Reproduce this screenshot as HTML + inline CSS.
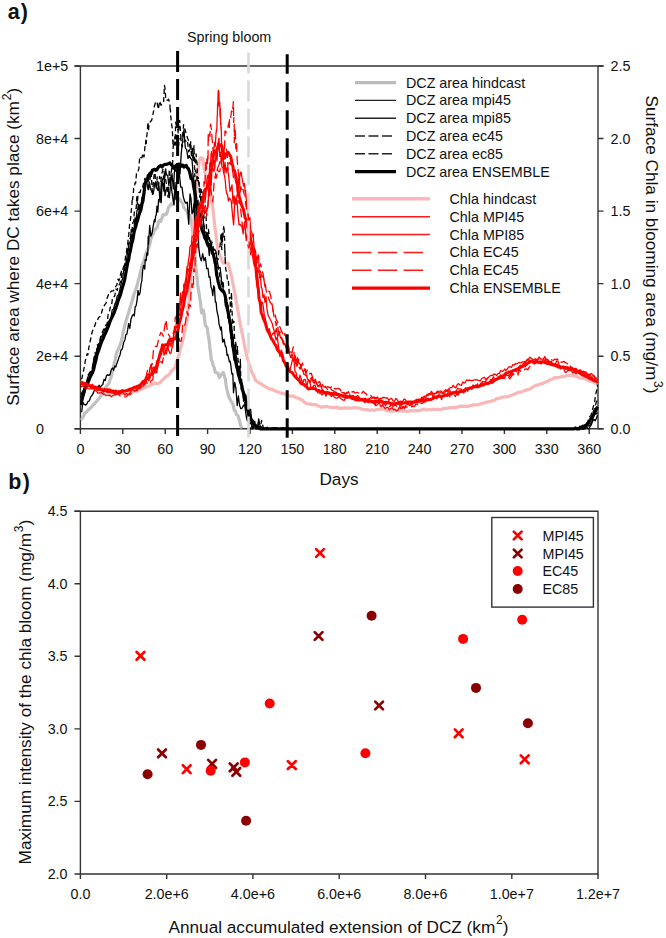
<!DOCTYPE html>
<html><head><meta charset="utf-8"><title>Figure</title>
<style>html,body{margin:0;padding:0;background:#fff;width:666px;height:938px;overflow:hidden}svg{display:block}text{font-family:"Liberation Sans", sans-serif;fill:#111}</style>
</head><body>
<svg width="666" height="938" viewBox="0 0 666 938">
<defs><clipPath id="clipa"><rect x="80.4" y="60" width="520" height="372"/></clipPath></defs>
<text x="7.8" y="18.7" font-size="21.5" font-weight="bold">a<tspan dx="1.1">)</tspan></text>
<text x="187" y="41.9" font-size="14.3">Spring bloom</text>
<path d="M74.5,66H603.5 M80.4,66V428.7 M598,66V428.7 M74.5,428.7H603.5" stroke="#333" stroke-width="1.4" fill="none"/>
<path d="M74.5,428.7H80.4 M598,428.7H603.5 M74.5,356.2H80.4 M598,356.2H603.5 M74.5,283.6H80.4 M598,283.6H603.5 M74.5,211.1H80.4 M598,211.1H603.5 M74.5,138.5H80.4 M598,138.5H603.5 M74.5,66.0H80.4 M598,66.0H603.5 M80.4,428.7V434 M122.8,428.7V434 M165.2,428.7V434 M207.6,428.7V434 M250.0,428.7V434 M292.4,428.7V434 M334.8,428.7V434 M377.2,428.7V434 M419.6,428.7V434 M462.0,428.7V434 M504.4,428.7V434 M546.8,428.7V434 M589.2,428.7V434" stroke="#333" stroke-width="1.4" fill="none"/>
<g clip-path="url(#clipa)"><polyline points="80.4,420.2 81.8,418.5 83.2,416.6 84.6,413.7 86.0,412.3 87.2,411.2 88.4,409.6 89.6,408.7 90.8,407.6 92.0,406.4 93.2,405.1 94.4,404.1 95.6,402.4 96.8,401.1 98.0,399.7 99.2,398.3 100.4,396.5 101.6,394.5 102.8,392.3 104.0,390.5 105.3,388.3 106.7,386.0 108.0,384.4 109.1,382.9 110.1,379.4 111.2,376.8 112.0,373.4 112.8,369.8 113.6,366.4 114.4,362.7 115.2,359.9 116.0,355.0 117.3,351.1 118.7,348.4 120.1,344.7 121.4,341.1 122.3,336.8 123.2,331.9 124.1,328.4 125.0,324.8 126.2,320.2 127.4,316.2 128.6,312.7 129.8,308.5 130.9,305.0 131.9,301.7 132.9,298.2 134.0,294.1 135.1,291.2 136.2,288.4 137.3,284.8 138.4,279.8 139.3,277.3 140.2,273.1 141.0,270.9 141.9,265.7 142.8,263.8 144.1,260.3 145.4,255.0 146.7,251.6 148.0,248.9 149.3,246.2 150.6,240.9 151.8,235.9 153.1,233.9 154.5,230.6 155.8,228.8 157.2,227.6 158.6,221.3 159.7,220.6 160.8,221.3 161.9,218.4 163.0,214.7 164.1,215.2 165.2,214.2 166.3,214.3 167.5,211.4 168.7,206.9 169.8,205.8 171.0,204.0 172.1,204.6 173.2,203.5 174.2,197.7 175.3,194.3 176.5,198.3 177.8,200.5 179.0,198.7 180.2,199.8 181.4,201.8 182.6,203.6 183.8,207.3 185.0,209.0 186.2,210.4 187.3,211.6 188.7,218.2 190.0,215.4 190.6,219.4 191.2,223.6 191.8,223.7 192.4,229.4 192.8,232.1 193.2,238.9 193.7,242.3 194.1,247.8 194.5,254.1 194.8,257.4 195.1,257.6 195.4,257.1 195.8,266.3 196.1,269.0 196.4,270.4 196.7,274.7 197.2,278.3 197.7,284.7 198.2,288.0 198.7,291.7 199.2,294.1 199.8,299.0 200.3,300.8 200.9,306.3 201.5,312.8 202.4,311.7 203.3,310.1 204.3,316.4 205.3,325.3 206.3,326.5 207.3,328.1 207.9,333.4 208.4,335.9 208.9,339.4 209.5,343.1 209.9,348.3 210.4,351.6 210.9,356.0 211.3,359.6 212.3,362.0 213.3,365.5 214.3,368.1 215.3,372.4 216.6,372.7 218.0,373.3 219.3,377.6 220.6,375.7 222.0,373.7 223.3,372.5 224.4,375.8 225.4,379.5 226.0,384.2 226.7,388.6 227.3,390.8 228.5,396.0 229.8,398.7 231.0,401.1 232.1,402.7 233.2,405.2 234.2,410.4 235.3,410.8 236.7,414.9 238.0,415.6 239.3,420.1 240.7,425.6 242.0,428.3" fill="none" stroke="#c0c0c0" stroke-width="3.2" stroke-linejoin="round" stroke-linecap="butt" />
<polyline points="80.4,383.1 81.8,383.2 83.2,383.5 84.6,383.2 86.0,384.2 87.4,385.0 88.8,385.2 90.2,385.8 91.6,386.2 93.0,386.3 94.4,386.9 95.8,387.1 97.2,387.3 98.6,387.4 100.0,388.0 101.4,388.3 102.8,388.9 104.2,389.0 105.7,389.5 107.1,389.6 108.5,390.3 109.9,390.7 111.3,391.2 112.7,391.6 114.1,391.6 115.5,392.3 116.9,393.2 118.4,393.0 119.8,392.8 121.2,392.8 122.6,393.6 123.9,393.4 125.3,393.5 126.6,393.4 128.0,393.1 129.3,392.8 130.6,392.4 132.0,392.3 133.3,391.5 134.6,391.1 136.0,390.9 137.3,391.1 138.7,390.5 140.0,389.8 141.3,389.1 142.7,388.8 144.0,388.1 145.3,387.8 146.6,386.6 148.0,386.3 149.3,386.0 150.6,384.8 151.9,384.2 153.3,384.0 154.6,383.3 155.9,383.3 157.3,383.6 158.7,383.2 160.0,382.7 161.3,381.1 162.7,380.0 164.0,378.6 165.3,377.2 166.5,376.4 167.7,375.8 168.8,374.7 170.0,373.5 171.2,371.3 172.4,370.3 173.7,368.8 174.9,367.8 176.1,363.9 177.3,359.7 178.5,356.0 179.5,352.6 180.4,348.8 181.4,345.2 182.4,342.5 183.1,339.1 183.9,335.7 184.6,332.1 185.3,328.4 186.1,325.2 186.8,321.6 187.2,317.7 187.6,314.0 187.9,310.0 188.3,306.5 188.7,303.2 189.1,299.2 189.4,296.0 189.8,292.1 190.0,288.4 190.2,284.4 190.5,280.7 190.7,277.0 190.9,273.2 191.1,269.4 191.3,265.6 191.6,261.7 191.8,257.7 192.0,254.1 192.2,250.4 192.4,246.8 192.6,243.0 192.8,239.8 193.1,235.7 193.3,231.4 193.5,227.9 193.7,223.4 193.9,219.6 194.1,215.2 194.4,211.7 194.6,207.5 194.9,204.3 195.2,200.6 195.5,196.8 195.7,193.8 196.0,190.4 196.4,186.6 196.8,182.6 197.1,178.8 197.5,175.0 197.9,171.7 198.3,168.4 198.8,164.6 199.2,160.9 200.5,157.8 201.6,157.9 202.6,158.4 203.2,162.2 203.9,166.3 204.5,170.5 205.2,173.9 206.1,177.5 206.9,180.8 207.8,184.8 208.6,188.1 209.5,191.5 210.2,194.5 210.9,197.7 211.5,201.1 212.2,204.4 212.9,208.0 213.2,210.9 213.6,214.6 213.9,217.8 214.3,221.8 214.6,225.1 215.1,229.1 215.6,232.3 216.1,236.2 216.5,239.6 217.0,243.2 217.5,247.0 218.0,250.7 219.3,253.8 220.6,257.1 221.8,260.3 223.1,263.2 224.4,263.0 225.6,263.1 226.9,263.3 228.2,263.0 229.0,266.7 229.9,270.0 230.8,273.3 231.6,276.9 232.3,280.5 233.0,284.0 233.6,287.0 234.3,290.6 235.0,294.1 235.7,297.6 236.3,301.9 237.0,305.8 237.6,309.1 238.3,313.0 238.9,316.6 239.6,320.9 240.4,325.1 241.2,328.8 242.0,332.6 242.8,336.7 243.6,340.7 244.4,345.0 245.2,349.0 246.1,352.6 246.9,356.5 247.7,359.7 249.0,363.8 250.4,368.1 251.7,372.0 253.1,374.5 254.4,377.4 255.8,380.6 257.1,381.5 258.5,382.1 259.9,383.5 261.2,383.8 262.5,385.0 263.9,385.8 265.2,386.8 266.6,387.2 267.9,388.3 269.3,389.0 270.6,389.1 272.0,389.2 273.2,389.7 274.4,390.6 275.6,391.1 276.8,391.5 278.0,391.9 279.4,392.5 280.7,392.9 282.1,393.3 283.5,393.4 284.8,394.1 286.2,394.8 287.5,394.7 288.9,395.7 290.3,396.1 291.6,396.2 293.0,395.9 294.3,396.7 295.7,397.5 297.0,397.9 298.4,398.0 299.7,399.1 301.1,399.6 302.4,400.1 303.8,401.7 305.1,402.8 306.5,403.5 307.8,403.8 309.2,404.3 310.5,403.9 311.9,404.4 313.2,404.6 314.6,404.7 315.9,404.7 317.3,405.5 318.6,406.1 320.0,406.7 321.4,407.1 322.8,406.9 324.2,406.7 325.6,406.3 327.0,406.5 328.4,407.0 329.8,407.2 331.2,407.5 332.6,407.3 334.0,407.3 335.4,407.3 336.8,407.1 338.1,407.9 339.5,408.3 340.9,408.1 342.3,408.0 343.7,408.1 345.1,407.8 346.5,408.2 347.9,408.0 349.3,408.1 350.7,408.0 352.1,408.1 353.5,407.9 354.9,407.7 356.3,407.8 357.7,407.9 359.1,408.1 360.5,408.5 361.9,409.2 363.3,409.5 364.7,409.5 366.1,409.8 367.5,409.6 368.9,410.1 370.3,410.3 371.7,409.8 373.1,410.1 374.5,410.4 376.0,409.6 377.4,409.5 378.8,409.5 380.2,409.1 381.6,409.1 383.0,409.1 384.4,409.6 385.8,409.9 387.2,410.9 388.6,410.8 390.0,411.1 391.4,411.1 392.8,411.2 394.2,410.8 395.6,410.3 397.0,410.3 398.4,410.6 399.8,411.1 401.2,411.2 402.6,411.2 404.0,410.8 405.4,411.2 406.8,411.5 408.3,411.1 409.7,411.0 411.1,410.5 412.5,410.9 413.9,410.9 415.3,410.7 416.7,410.7 418.1,410.7 419.5,410.5 420.9,410.0 422.3,409.6 423.7,409.1 425.1,409.4 426.5,410.2 427.9,409.6 429.3,409.6 430.8,409.8 432.2,409.4 433.6,409.5 435.0,409.2 436.4,409.6 437.8,409.4 439.2,409.4 440.6,409.6 442.0,409.2 443.4,408.5 444.7,408.3 446.1,408.4 447.5,408.2 448.9,408.1 450.2,407.6 451.6,407.6 453.0,407.6 454.4,407.4 455.7,407.8 457.1,407.4 458.5,406.8 459.9,406.1 461.2,406.4 462.6,406.2 464.0,406.3 465.4,406.1 466.8,406.3 468.2,406.3 469.6,405.7 471.1,405.5 472.5,405.4 473.9,404.6 475.3,404.8 476.7,404.8 478.1,404.7 479.5,404.2 480.9,403.9 482.4,403.2 483.8,402.9 485.2,402.4 486.6,402.2 488.0,401.9 489.4,401.6 490.8,401.5 492.2,400.7 493.6,400.6 495.1,399.6 496.5,398.6 497.9,398.4 499.3,398.2 500.7,398.0 502.1,397.2 503.5,397.0 504.9,396.8 506.4,396.9 507.8,396.4 509.2,396.2 510.6,395.5 512.0,395.1 513.4,394.4 514.8,394.1 516.2,393.3 517.6,392.5 519.1,392.2 520.5,392.2 521.9,391.7 523.3,391.1 524.7,390.4 526.1,390.1 527.5,389.6 528.9,389.4 530.4,388.8 531.8,387.7 533.2,386.9 534.6,386.0 536.0,385.1 537.4,385.1 538.8,384.8 540.1,383.9 541.5,383.9 542.9,383.4 544.3,382.5 545.6,382.1 547.0,381.6 548.4,380.8 549.8,379.7 551.2,379.4 552.5,379.1 553.9,377.9 555.3,377.7 556.6,377.8 557.9,377.5 559.2,377.3 560.5,377.0 561.8,376.6 563.2,376.4 564.5,376.6 565.8,375.9 567.1,375.8 568.4,375.7 569.7,375.2 571.0,375.4 572.3,375.4 573.6,375.5 574.9,375.9 576.2,376.4 577.5,376.5 578.8,377.8 580.1,377.8 581.4,378.1 582.7,378.2 584.0,378.3 585.4,379.2 586.8,379.5 588.2,380.3 589.6,381.1 591.0,381.1 592.4,381.8 593.8,382.0 595.2,383.2 596.6,383.4 598.0,383.5" fill="none" stroke="#f9b8b8" stroke-width="3.2" stroke-linejoin="round" stroke-linecap="butt" />
<polyline points="80.4,387.2 81.2,379.0 82.0,378.2 82.8,373.6 83.7,369.8 84.5,366.2 85.3,360.5 86.2,358.4 87.0,354.0 87.9,354.8 88.7,348.3 89.6,343.7 90.5,340.0 91.3,335.9 92.2,331.8 93.5,328.8 94.7,326.1 96.0,321.8 97.1,321.3 98.2,318.4 99.2,316.8 100.3,316.7 101.5,313.0 102.6,309.0 103.8,306.5 104.9,304.6 106.1,303.1 107.2,297.9 108.4,294.7 109.6,294.8 110.8,291.6 112.1,290.8 113.3,290.9 114.5,289.4 115.6,286.7 116.8,285.1 117.9,279.2 119.0,280.8 120.4,275.0 121.8,269.9 123.2,268.1 124.6,265.0 125.2,259.5 125.8,254.3 126.4,251.9 127.0,247.9 127.4,246.4 127.9,241.9 128.3,237.1 128.8,234.7 129.2,228.8 129.7,223.5 130.1,222.3 130.6,218.8 131.0,213.5 131.5,208.5 131.9,206.5 132.2,197.7 132.6,199.6 133.0,196.1 133.7,188.4 134.3,188.1 135.0,182.9 135.7,183.1 136.5,173.2 137.3,171.0 138.1,171.0 138.9,168.6 139.7,156.5 140.8,157.6 141.9,157.9 143.0,153.3 144.0,157.0 145.0,146.3 145.4,146.9 145.9,139.1 146.3,143.4 146.8,135.9 147.4,130.8 147.9,122.2 148.5,130.7 149.0,125.0 150.3,121.8 151.7,120.2 153.0,114.2 154.3,106.6 155.6,102.2 156.9,101.5 158.3,109.3 159.7,101.1 161.0,105.4 161.9,104.0 162.7,103.5 163.6,102.3 164.1,91.6 164.5,85.4 165.0,88.3 165.7,97.7 166.3,100.5 167.6,100.2 168.6,99.2 169.6,102.6 169.9,104.2 170.2,111.7 170.4,109.2 170.7,115.8 171.0,118.6 171.7,125.1 172.3,128.5 173.0,144.9 174.0,143.1 175.0,145.3 175.7,122.2 176.3,125.5 177.3,126.1 178.3,133.5 179.7,120.3 181.0,138.7 182.3,138.5 183.6,124.6 184.9,129.1 186.3,134.1 187.6,138.3 189.0,141.5 190.3,148.9 190.7,141.7 191.2,149.7 191.6,150.8 192.9,160.5 194.3,157.2 195.6,162.8 196.1,154.0 196.6,161.5 197.0,162.5 197.5,178.6 198.0,178.3 198.4,177.7 198.9,180.2 199.3,187.5 199.7,186.7 200.1,188.9 200.6,197.9 201.0,209.7 201.4,203.6 201.9,205.0 202.3,206.1 202.7,208.8 203.1,219.3 203.6,224.7 204.0,225.4 205.0,230.0 206.0,233.0 207.0,236.8 208.0,234.9 209.3,242.0 210.7,248.2 212.0,249.6 213.3,253.7 214.7,256.1 216.0,260.8 217.0,267.6 218.0,267.6 219.0,271.2 220.0,277.3 221.0,280.8 222.0,287.6 223.0,280.8 224.0,291.9 224.6,292.4 225.1,297.4 225.7,303.1 226.3,307.6 226.9,311.2 227.4,312.2 228.0,319.7 228.6,318.2 229.1,321.7 229.7,328.0 230.3,327.9 230.9,338.9 231.4,340.0 232.0,346.6 232.8,344.6 233.6,347.0 234.4,352.4 235.2,358.1 236.0,358.5 236.8,364.9 237.6,368.0 238.4,376.6 239.2,374.6 240.0,382.9 240.8,382.0 241.6,384.3 242.4,388.5 243.2,390.8 244.0,398.1 245.0,404.5 246.0,405.8 247.0,410.4 248.0,416.9 249.3,416.6 250.7,419.2 252.0,421.5 253.3,420.5 254.7,427.3 256.0,424.4 257.3,428.9 258.7,428.7 260.0,428.9 261.4,428.9 262.8,427.1 264.2,428.9 265.6,428.6 267.1,428.8 268.5,428.9 269.9,428.8 271.3,428.8 272.7,428.4 274.1,428.8 275.5,427.7 276.9,428.7 278.4,428.2 279.8,428.9 281.2,428.9 282.6,427.9 284.0,428.9 285.4,428.9 286.8,428.9 288.2,428.9 289.7,428.9 291.1,428.9 292.5,428.9 293.9,428.9 295.3,428.9 296.7,428.9 298.1,428.9 299.5,428.9 301.0,428.9 302.4,428.9 303.8,428.9 305.2,428.9 306.6,428.9 308.0,428.9 309.4,428.9 310.8,428.9 312.3,428.9 313.7,428.9 315.1,428.9 316.5,428.9 317.9,428.9 319.3,428.9 320.7,428.9 322.1,428.9 323.6,428.9 325.0,428.9 326.4,428.9 327.8,428.9 329.2,428.9 330.6,428.9 332.0,428.9 333.4,428.9 334.9,428.9 336.3,428.9 337.7,428.9 339.1,428.9 340.5,428.9 341.9,428.9 343.3,428.9 344.7,428.9 346.1,428.9 347.6,428.9 349.0,428.9 350.4,428.9 351.8,428.9 353.2,428.9 354.6,428.9 356.0,428.9 357.4,428.9 358.9,428.9 360.3,428.9 361.7,428.9 363.1,428.9 364.5,428.9 365.9,428.9 367.3,428.9 368.7,428.9 370.2,428.9 371.6,428.9 373.0,428.9 374.4,428.9 375.8,428.9 377.2,428.9 378.6,428.9 380.0,428.9 381.5,428.9 382.9,428.9 384.3,428.9 385.7,428.9 387.1,428.9 388.5,428.9 389.9,428.9 391.3,428.9 392.8,428.9 394.2,428.9 395.6,428.9 397.0,428.9 398.4,428.9 399.8,428.9 401.2,428.9 402.6,428.9 404.1,428.9 405.5,428.9 406.9,428.9 408.3,428.9 409.7,428.9 411.1,428.9 412.5,428.9 413.9,428.9 415.4,428.9 416.8,428.9 418.2,428.9 419.6,428.9 421.0,428.9 422.4,428.9 423.8,428.9 425.2,428.9 426.6,428.9 428.1,428.9 429.5,428.9 430.9,428.9 432.3,428.9 433.7,428.9 435.1,428.9 436.5,428.9 437.9,428.9 439.4,428.9 440.8,428.9 442.2,428.9 443.6,428.9 445.0,428.9 446.4,428.9 447.8,428.9 449.2,428.9 450.7,428.9 452.1,428.9 453.5,428.9 454.9,428.9 456.3,428.9 457.7,428.9 459.1,428.9 460.5,428.9 462.0,428.9 463.4,428.9 464.8,428.9 466.2,428.9 467.6,428.9 469.0,428.9 470.4,428.9 471.8,428.9 473.3,428.9 474.7,428.9 476.1,428.9 477.5,428.9 478.9,428.9 480.3,428.9 481.7,428.9 483.1,428.9 484.6,428.9 486.0,428.9 487.4,428.9 488.8,428.9 490.2,428.9 491.6,428.9 493.0,428.9 494.4,428.9 495.9,428.9 497.3,428.9 498.7,428.9 500.1,428.9 501.5,428.9 502.9,428.9 504.3,428.9 505.7,428.9 507.1,428.9 508.6,428.9 510.0,428.9 511.4,428.9 512.8,428.9 514.2,428.9 515.6,428.9 517.0,428.9 518.4,428.9 519.9,428.9 521.3,428.9 522.7,428.9 524.1,428.9 525.5,428.9 526.9,428.9 528.3,428.9 529.7,428.9 531.2,428.9 532.6,428.9 534.0,428.9 535.4,428.9 536.8,428.9 538.2,428.9 539.6,428.9 541.0,428.9 542.5,428.9 543.9,428.9 545.3,428.9 546.7,428.9 548.1,428.9 549.5,428.9 550.9,428.9 552.3,428.9 553.8,428.9 555.2,428.9 556.6,428.9 558.0,428.9 559.4,428.9 560.8,428.9 562.2,428.9 563.6,428.9 565.1,428.9 566.5,428.9 567.9,428.9 569.3,428.9 570.7,428.9 572.1,428.9 573.5,428.9 574.9,428.9 576.4,428.9 577.8,427.9 579.2,428.3 580.6,428.9 582.0,428.9 583.2,426.8 584.5,427.1 585.8,423.7 587.0,424.3 588.3,419.6 589.7,416.7 591.0,415.4 592.0,411.3 593.0,407.6 594.0,404.5 594.7,401.4 595.3,397.0 596.0,393.0 596.8,389.9 597.5,384.5" fill="none" stroke="#000" stroke-width="1.3" stroke-linejoin="round" stroke-linecap="butt" stroke-dasharray="5,3" />
<polyline points="80.4,403.6 81.3,401.2 82.2,401.9 83.1,397.0 84.0,388.7 85.0,388.2 86.0,383.7 87.0,381.7 88.0,374.7 89.3,374.2 90.7,370.5 92.0,369.3 93.0,363.5 94.0,360.2 95.0,352.5 96.0,356.4 97.2,344.7 98.5,346.4 99.8,340.3 101.0,335.1 102.2,332.4 103.5,329.4 104.8,328.6 106.0,324.8 107.1,324.1 108.2,313.5 109.2,312.6 110.3,307.1 111.4,306.4 112.6,297.5 113.7,297.4 114.8,295.6 116.0,288.9 117.2,290.4 118.4,285.7 119.6,284.0 120.8,280.7 122.0,272.9 123.0,268.8 124.0,266.2 125.0,265.0 126.0,261.7 127.0,253.1 127.8,248.9 128.6,244.2 129.4,240.7 130.2,237.9 131.0,234.4 131.7,238.8 132.3,226.2 133.0,222.3 133.7,221.4 134.3,212.1 135.0,210.1 135.6,208.5 136.2,208.6 136.8,196.3 137.4,204.0 138.0,194.0 139.0,192.4 140.0,192.5 141.0,188.8 142.3,188.9 143.7,182.0 145.0,178.1 146.2,181.6 147.5,174.3 148.8,190.7 150.0,178.9 151.2,172.2 152.4,195.5 153.6,179.6 154.8,168.6 156.0,189.3 157.2,176.8 158.4,188.0 159.6,176.4 160.8,181.5 162.0,172.8 163.2,168.5 164.4,173.7 165.6,179.7 166.8,185.6 168.0,197.2 169.3,169.3 170.7,179.8 172.0,164.7 172.6,163.9 173.2,146.3 173.8,141.0 174.4,144.2 175.0,136.6 176.0,144.6 177.0,134.5 178.0,150.3 179.3,139.8 180.7,138.0 182.0,147.1 183.3,144.0 184.7,139.9 186.0,141.1 187.3,140.0 188.7,151.8 190.0,149.3 190.8,148.8 191.6,156.8 192.4,147.2 193.2,160.9 194.0,145.7 194.8,176.6 195.6,170.2 196.4,174.1 197.2,182.5 198.0,180.4 198.8,182.1 199.6,197.0 200.4,193.8 201.2,189.3 202.0,202.6 203.0,191.7 204.0,218.1 205.0,211.1 206.0,215.3 206.8,234.2 207.6,238.7 208.4,229.3 209.2,235.2 210.0,242.2 211.0,249.3 212.0,241.8 213.0,245.6 214.0,255.1 215.3,252.9 216.7,257.8 218.0,259.8 219.0,248.1 220.0,246.6 221.0,234.7 221.4,243.3 221.8,249.7 222.1,233.3 222.5,241.3 222.9,238.4 223.3,229.7 223.7,226.6 223.9,230.4 224.1,228.5 224.4,234.6 224.6,239.5 224.7,247.4 224.8,252.7 224.9,248.3 225.1,260.2 225.2,256.1 225.3,262.7 225.8,269.6 226.4,271.5 226.9,274.4 227.4,280.3 227.9,279.6 228.5,282.4 229.0,288.5 229.5,299.0 230.0,297.5 230.5,311.9 231.0,307.3 231.5,292.4 232.0,308.4 232.5,325.1 233.0,320.9 233.5,321.2 234.0,321.9 234.5,337.4 235.0,340.3 235.5,341.9 236.0,343.8 236.5,353.2 237.0,354.2 237.5,346.3 238.0,360.2 238.5,361.7 239.0,363.8 239.5,372.3 240.0,372.6 240.4,359.5 240.9,386.5 241.3,389.7 241.8,387.0 242.2,388.7 242.7,395.6 243.2,391.2 243.6,403.0 244.7,404.8 245.8,407.9 246.9,408.6 248.0,413.7 249.3,426.4 250.7,428.9 252.0,428.7 253.3,427.0 254.7,424.3 256.0,428.9 257.4,428.9 258.8,422.9 260.2,428.9 261.6,420.3 263.0,426.6 264.5,428.9 265.9,427.5 267.3,427.2 268.7,428.9 270.1,428.9 271.5,428.5 272.9,428.9 274.3,428.2 275.7,428.9 277.1,428.9 278.6,428.9 280.0,428.9 281.4,428.9 282.8,428.9 284.2,428.9 285.6,428.9 287.0,428.9 288.4,428.9 289.8,428.9 291.2,428.9 292.6,428.9 294.1,428.9 295.5,428.9 296.9,428.9 298.3,428.9 299.7,428.9 301.1,428.9 302.5,428.9 303.9,428.9 305.3,428.9 306.7,428.9 308.2,428.9 309.6,428.9 311.0,428.9 312.4,428.9 313.8,428.9 315.2,428.9 316.6,428.9 318.0,428.9 319.4,428.9 320.8,428.9 322.2,428.9 323.7,428.9 325.1,428.9 326.5,428.9 327.9,428.9 329.3,428.9 330.7,428.9 332.1,428.9 333.5,428.9 334.9,428.9 336.3,428.9 337.8,428.9 339.2,428.9 340.6,428.9 342.0,428.9 343.4,428.9 344.8,428.9 346.2,428.9 347.6,428.9 349.0,428.9 350.4,428.9 351.8,428.9 353.3,428.9 354.7,428.9 356.1,428.9 357.5,428.9 358.9,428.9 360.3,428.9 361.7,428.9 363.1,428.9 364.5,428.9 365.9,428.9 367.3,428.9 368.8,428.9 370.2,428.9 371.6,428.9 373.0,428.9 374.4,428.9 375.8,428.9 377.2,428.9 378.6,428.9 380.0,428.9 381.4,428.9 382.9,428.9 384.3,428.9 385.7,428.9 387.1,428.9 388.5,428.9 389.9,428.9 391.3,428.9 392.7,428.9 394.1,428.9 395.5,428.9 396.9,428.9 398.4,428.9 399.8,428.9 401.2,428.9 402.6,428.9 404.0,428.9 405.4,428.9 406.8,428.9 408.2,428.9 409.6,428.9 411.0,428.9 412.5,428.9 413.9,428.9 415.3,428.9 416.7,428.9 418.1,428.9 419.5,428.9 420.9,428.9 422.3,428.9 423.7,428.9 425.1,428.9 426.5,428.9 428.0,428.9 429.4,428.9 430.8,428.9 432.2,428.9 433.6,428.9 435.0,428.9 436.4,428.9 437.8,428.9 439.2,428.9 440.6,428.9 442.1,428.9 443.5,428.9 444.9,428.9 446.3,428.9 447.7,428.9 449.1,428.9 450.5,428.9 451.9,428.9 453.3,428.9 454.7,428.9 456.1,428.9 457.6,428.9 459.0,428.9 460.4,428.9 461.8,428.9 463.2,428.9 464.6,428.9 466.0,428.9 467.4,428.9 468.8,428.9 470.2,428.9 471.7,428.9 473.1,428.9 474.5,428.9 475.9,428.9 477.3,428.9 478.7,428.9 480.1,428.9 481.5,428.9 482.9,428.9 484.3,428.9 485.7,428.9 487.2,428.9 488.6,428.9 490.0,428.9 491.4,428.9 492.8,428.9 494.2,428.9 495.6,428.9 497.0,428.9 498.4,428.9 499.8,428.9 501.2,428.9 502.7,428.9 504.1,428.9 505.5,428.9 506.9,428.9 508.3,428.9 509.7,428.9 511.1,428.9 512.5,428.9 513.9,428.9 515.3,428.9 516.8,428.9 518.2,428.9 519.6,428.9 521.0,428.9 522.4,428.9 523.8,428.9 525.2,428.9 526.6,428.9 528.0,428.9 529.4,428.9 530.8,428.9 532.3,428.9 533.7,428.9 535.1,428.9 536.5,428.9 537.9,428.9 539.3,428.9 540.7,428.9 542.1,428.9 543.5,428.9 544.9,428.9 546.4,428.9 547.8,428.9 549.2,428.9 550.6,428.9 552.0,428.9 553.4,428.9 554.8,428.9 556.2,428.9 557.6,428.9 559.0,428.9 560.4,428.9 561.9,428.9 563.3,428.9 564.7,428.9 566.1,428.9 567.5,428.9 568.9,428.9 570.3,428.9 571.7,428.9 573.1,428.9 574.5,428.9 576.0,427.5 577.4,428.9 578.8,428.9 580.2,426.4 581.6,428.9 583.0,428.9 584.2,426.8 585.5,427.2 586.8,422.7 588.0,424.1 589.3,420.9 590.7,419.6 592.0,415.2 593.0,412.2 594.0,409.8 595.0,406.4 596.2,402.5 597.5,399.3" fill="none" stroke="#000" stroke-width="1.3" stroke-linejoin="round" stroke-linecap="butt" stroke-dasharray="5,3" />
<polyline points="80.4,398.3 81.6,393.1 82.8,391.2 84.0,388.8 85.3,387.1 86.7,381.8 88.0,376.9 89.3,372.9 90.7,372.7 92.0,371.6 92.9,365.7 93.8,359.0 94.6,356.0 95.5,358.1 96.9,352.0 98.2,344.0 99.6,343.2 101.0,337.5 102.3,335.1 103.7,332.2 105.0,328.4 106.1,328.5 107.2,325.0 108.4,321.3 109.5,320.7 110.8,318.5 112.2,310.1 113.5,309.1 114.8,304.1 116.0,301.9 117.2,296.0 118.5,294.8 119.5,291.1 120.5,286.8 121.6,281.3 122.6,278.8 123.2,273.8 123.9,269.5 124.5,270.2 125.2,263.1 126.0,265.6 126.8,261.2 127.5,249.0 128.2,251.5 129.0,243.8 129.8,243.5 130.5,240.1 131.3,229.4 132.2,231.7 133.0,228.8 134.0,230.0 135.0,218.0 136.0,221.5 137.0,210.4 137.7,209.6 138.4,204.1 139.1,211.3 139.8,204.8 140.5,210.5 141.7,198.8 142.8,195.3 144.0,191.6 145.3,180.7 146.7,181.2 148.0,189.5 149.3,182.0 150.7,189.2 152.0,192.0 153.3,193.7 154.7,183.7 156.0,181.6 157.0,188.0 158.0,190.5 159.0,186.2 160.0,202.2 161.3,183.3 162.7,179.2 164.0,175.2 165.0,195.6 166.0,190.4 167.0,188.1 168.0,189.5 169.3,197.6 170.7,183.8 172.0,173.6 173.3,189.0 174.7,168.0 176.0,171.4 177.0,171.5 178.0,163.3 179.0,163.0 180.0,173.9 181.3,152.7 182.7,139.8 184.0,129.5 185.3,147.8 186.7,149.9 188.0,158.4 189.3,155.4 190.7,158.5 192.0,159.9 192.5,165.8 193.0,177.1 193.5,176.1 194.0,184.7 194.5,207.9 195.0,199.0 195.5,180.2 196.0,216.5 197.0,209.0 198.0,200.4 199.0,217.6 200.0,215.8 201.0,213.7 202.0,216.4 203.0,217.1 204.0,227.6 205.3,239.4 206.7,234.5 208.0,242.6 209.3,255.5 210.7,240.3 212.0,250.9 213.3,251.0 214.7,249.2 216.0,251.7 217.3,261.3 218.7,268.3 220.0,267.3 220.8,273.6 221.6,281.2 222.4,282.9 223.2,289.4 224.0,291.1 224.7,294.7 225.3,305.8 226.0,303.5 226.7,303.8 227.3,310.4 228.0,305.3 228.6,311.2 229.1,321.3 229.7,324.6 230.3,333.3 230.9,328.8 231.4,323.4 232.0,345.0 232.7,345.9 233.3,337.5 234.0,353.6 234.7,351.2 235.3,344.1 236.0,354.7 236.8,358.8 237.6,374.5 238.4,366.4 239.2,372.2 240.0,376.3 240.8,379.1 241.6,379.5 242.4,388.9 243.2,397.7 244.0,399.1 245.0,394.0 246.0,395.6 247.0,406.2 248.0,406.1 249.3,409.4 250.7,409.4 252.0,427.4 253.3,426.9 254.7,421.1 256.0,428.9 257.3,428.9 258.7,418.9 260.0,425.7 261.4,427.0 262.8,428.9 264.2,428.6 265.6,428.7 267.0,428.8 268.5,428.9 269.9,428.9 271.3,428.6 272.7,427.9 274.1,428.9 275.5,428.1 276.9,428.2 278.3,428.9 279.7,428.9 281.1,428.9 282.5,428.9 283.9,428.0 285.4,428.9 286.8,428.9 288.2,428.9 289.6,428.9 291.0,428.9 292.4,428.9 293.8,428.9 295.2,428.9 296.6,428.9 298.0,428.9 299.4,428.9 300.9,428.9 302.3,428.9 303.7,428.9 305.1,428.9 306.5,428.9 307.9,428.9 309.3,428.9 310.7,428.9 312.1,428.9 313.5,428.9 314.9,428.9 316.3,428.9 317.8,428.9 319.2,428.9 320.6,428.9 322.0,428.9 323.4,428.9 324.8,428.9 326.2,428.9 327.6,428.9 329.0,428.9 330.4,428.9 331.8,428.9 333.3,428.9 334.7,428.9 336.1,428.9 337.5,428.9 338.9,428.9 340.3,428.9 341.7,428.9 343.1,428.9 344.5,428.9 345.9,428.9 347.3,428.9 348.7,428.9 350.2,428.9 351.6,428.9 353.0,428.9 354.4,428.9 355.8,428.9 357.2,428.9 358.6,428.9 360.0,428.9 361.4,428.9 362.8,428.9 364.2,428.9 365.7,428.9 367.1,428.9 368.5,428.9 369.9,428.9 371.3,428.9 372.7,428.9 374.1,428.9 375.5,428.9 376.9,428.9 378.3,428.9 379.7,428.9 381.1,428.9 382.6,428.9 384.0,428.9 385.4,428.9 386.8,428.9 388.2,428.9 389.6,428.9 391.0,428.9 392.4,428.9 393.8,428.9 395.2,428.9 396.6,428.9 398.1,428.9 399.5,428.9 400.9,428.9 402.3,428.9 403.7,428.9 405.1,428.9 406.5,428.9 407.9,428.9 409.3,428.9 410.7,428.9 412.1,428.9 413.5,428.9 415.0,428.9 416.4,428.9 417.8,428.9 419.2,428.9 420.6,428.9 422.0,428.9 423.4,428.9 424.8,428.9 426.2,428.9 427.6,428.9 429.0,428.9 430.5,428.9 431.9,428.9 433.3,428.9 434.7,428.9 436.1,428.9 437.5,428.9 438.9,428.9 440.3,428.9 441.7,428.9 443.1,428.9 444.5,428.9 445.9,428.9 447.4,428.9 448.8,428.9 450.2,428.9 451.6,428.9 453.0,428.9 454.4,428.9 455.8,428.9 457.2,428.9 458.6,428.9 460.0,428.9 461.4,428.9 462.9,428.9 464.3,428.9 465.7,428.9 467.1,428.9 468.5,428.9 469.9,428.9 471.3,428.9 472.7,428.9 474.1,428.9 475.5,428.9 476.9,428.9 478.3,428.9 479.8,428.9 481.2,428.9 482.6,428.9 484.0,428.9 485.4,428.9 486.8,428.9 488.2,428.9 489.6,428.9 491.0,428.9 492.4,428.9 493.8,428.9 495.3,428.9 496.7,428.9 498.1,428.9 499.5,428.9 500.9,428.9 502.3,428.9 503.7,428.9 505.1,428.9 506.5,428.9 507.9,428.9 509.3,428.9 510.7,428.9 512.2,428.9 513.6,428.9 515.0,428.9 516.4,428.9 517.8,428.9 519.2,428.9 520.6,428.9 522.0,428.9 523.4,428.9 524.8,428.9 526.2,428.9 527.7,428.9 529.1,428.9 530.5,428.9 531.9,428.9 533.3,428.9 534.7,428.9 536.1,428.9 537.5,428.9 538.9,428.9 540.3,428.9 541.7,428.9 543.1,428.9 544.6,428.9 546.0,428.9 547.4,428.9 548.8,428.9 550.2,428.9 551.6,428.9 553.0,428.9 554.4,428.9 555.8,428.9 557.2,428.9 558.6,428.9 560.1,428.9 561.5,428.9 562.9,428.9 564.3,428.9 565.7,428.9 567.1,428.9 568.5,428.9 569.9,428.9 571.3,428.9 572.7,428.9 574.1,428.9 575.5,427.1 577.0,428.9 578.4,428.5 579.8,426.2 581.2,428.9 582.6,428.9 584.0,428.9 585.2,428.9 586.5,426.4 587.8,425.5 589.0,426.2 590.3,424.4 591.7,422.1 593.0,418.5 594.1,415.2 595.2,413.6 596.4,413.9 597.5,412.7" fill="none" stroke="#000" stroke-width="1.3" stroke-linejoin="round" stroke-linecap="butt" />
<polyline points="80.4,411.9 81.7,411.7 82.9,402.4 84.2,404.3 85.5,405.1 86.7,404.3 88.0,401.4 89.4,400.8 90.8,396.8 92.2,395.1 93.6,392.4 95.0,388.1 96.3,387.0 97.7,388.0 99.1,385.3 100.4,387.2 101.6,385.5 102.8,384.5 104.0,379.3 105.2,380.6 106.4,375.8 107.6,374.7 108.8,375.4 110.0,374.6 111.2,369.9 112.4,368.0 113.6,370.3 114.7,366.0 115.8,367.0 116.9,363.4 118.0,360.6 119.0,357.1 120.0,355.0 121.0,349.9 122.3,348.9 123.7,342.4 125.0,339.4 125.9,334.7 126.8,334.4 127.7,329.7 128.6,323.6 129.8,328.4 131.0,319.0 132.2,315.8 133.4,314.3 134.3,316.0 135.2,306.6 136.1,305.9 137.0,300.6 138.0,290.5 139.0,295.1 140.0,293.3 141.0,284.4 141.8,281.1 142.7,270.2 143.6,265.3 144.4,267.1 144.8,269.0 145.2,259.8 145.6,259.4 146.2,260.6 146.8,253.1 147.4,252.5 147.8,255.1 148.2,236.3 148.6,244.0 149.7,225.5 150.9,236.3 152.0,233.5 153.2,226.1 154.4,219.6 155.0,221.9 155.6,216.2 156.2,215.4 157.0,206.1 157.8,212.0 158.6,199.5 159.5,199.6 160.4,195.6 161.2,202.6 162.1,181.8 163.0,183.4 163.9,191.2 164.8,176.9 165.6,168.8 166.5,175.0 167.7,175.2 168.8,185.3 170.0,177.5 171.3,187.7 172.7,197.1 174.0,204.9 175.0,182.3 176.0,199.4 177.0,176.9 178.0,165.8 179.3,173.4 180.7,187.1 182.0,187.2 183.3,197.0 184.7,201.5 186.0,203.3 187.3,202.1 188.7,224.1 190.0,193.8 191.0,198.6 192.0,213.7 193.0,212.1 194.0,203.9 195.0,222.5 196.2,228.3 197.5,217.3 198.8,248.1 200.0,256.9 201.3,260.8 202.7,253.7 204.0,260.7 205.3,257.4 206.7,268.6 208.0,268.3 209.0,277.1 210.0,276.8 211.0,287.0 212.0,289.8 212.8,295.7 213.7,285.7 214.5,287.5 215.3,302.0 216.1,302.1 216.8,310.1 217.6,313.8 218.3,317.0 219.1,324.2 219.8,326.6 220.6,329.8 221.3,327.0 222.7,342.2 224.0,339.1 225.4,346.4 226.2,347.1 227.0,355.3 227.8,354.4 228.6,358.2 229.4,361.8 230.1,361.2 230.8,364.9 231.4,370.5 232.1,374.3 232.8,373.7 233.5,392.8 234.7,382.4 235.9,388.2 237.2,405.5 238.4,396.0 239.6,405.5 240.9,408.8 242.3,408.0 243.6,405.1 244.9,406.3 246.2,416.0 247.4,421.1 248.7,411.5 250.0,423.8 251.2,422.6 252.4,428.9 253.6,427.9 254.8,425.1 256.0,427.1 257.4,428.9 258.8,428.9 260.2,428.9 261.6,428.9 263.1,428.9 264.5,428.9 265.9,428.9 267.3,428.9 268.7,428.9 270.1,428.9 271.5,428.3 272.9,428.9 274.4,428.9 275.8,428.9 277.2,428.9 278.6,428.9 280.0,428.9 281.4,428.9 282.8,428.1 284.2,428.9 285.7,428.9 287.1,428.9 288.5,428.9 289.9,428.9 291.3,428.9 292.7,428.9 294.1,428.9 295.5,428.9 296.9,428.9 298.4,428.9 299.8,428.9 301.2,428.9 302.6,428.9 304.0,428.9 305.4,428.9 306.8,428.9 308.2,428.9 309.7,428.9 311.1,428.9 312.5,428.9 313.9,428.9 315.3,428.9 316.7,428.9 318.1,428.9 319.5,428.9 321.0,428.9 322.4,428.9 323.8,428.9 325.2,428.9 326.6,428.9 328.0,428.9 329.4,428.9 330.8,428.9 332.2,428.9 333.7,428.9 335.1,428.9 336.5,428.9 337.9,428.9 339.3,428.9 340.7,428.9 342.1,428.9 343.5,428.9 345.0,428.9 346.4,428.9 347.8,428.9 349.2,428.9 350.6,428.9 352.0,428.9 353.4,428.9 354.8,428.9 356.3,428.9 357.7,428.9 359.1,428.9 360.5,428.9 361.9,428.9 363.3,428.9 364.7,428.9 366.1,428.9 367.5,428.9 369.0,428.9 370.4,428.9 371.8,428.9 373.2,428.9 374.6,428.9 376.0,428.9 377.4,428.9 378.8,428.9 380.3,428.9 381.7,428.9 383.1,428.9 384.5,428.9 385.9,428.9 387.3,428.9 388.7,428.9 390.1,428.9 391.6,428.9 393.0,428.9 394.4,428.9 395.8,428.9 397.2,428.9 398.6,428.9 400.0,428.9 401.4,428.9 402.8,428.9 404.3,428.9 405.7,428.9 407.1,428.9 408.5,428.9 409.9,428.9 411.3,428.9 412.7,428.9 414.1,428.9 415.6,428.9 417.0,428.9 418.4,428.9 419.8,428.9 421.2,428.9 422.6,428.9 424.0,428.9 425.4,428.9 426.9,428.9 428.3,428.9 429.7,428.9 431.1,428.9 432.5,428.9 433.9,428.9 435.3,428.9 436.7,428.9 438.2,428.9 439.6,428.9 441.0,428.9 442.4,428.9 443.8,428.9 445.2,428.9 446.6,428.9 448.0,428.9 449.4,428.9 450.9,428.9 452.3,428.9 453.7,428.9 455.1,428.9 456.5,428.9 457.9,428.9 459.3,428.9 460.7,428.9 462.2,428.9 463.6,428.9 465.0,428.9 466.4,428.9 467.8,428.9 469.2,428.9 470.6,428.9 472.0,428.9 473.5,428.9 474.9,428.9 476.3,428.9 477.7,428.9 479.1,428.9 480.5,428.9 481.9,428.9 483.3,428.9 484.7,428.9 486.2,428.9 487.6,428.9 489.0,428.9 490.4,428.9 491.8,428.9 493.2,428.9 494.6,428.9 496.0,428.9 497.5,428.9 498.9,428.9 500.3,428.9 501.7,428.9 503.1,428.9 504.5,428.9 505.9,428.9 507.3,428.9 508.8,428.9 510.2,428.9 511.6,428.9 513.0,428.9 514.4,428.9 515.8,428.9 517.2,428.9 518.6,428.9 520.0,428.9 521.5,428.9 522.9,428.9 524.3,428.9 525.7,428.9 527.1,428.9 528.5,428.9 529.9,428.9 531.3,428.9 532.8,428.9 534.2,428.9 535.6,428.9 537.0,428.9 538.4,428.9 539.8,428.9 541.2,428.9 542.6,428.9 544.1,428.9 545.5,428.9 546.9,428.9 548.3,428.9 549.7,428.9 551.1,428.9 552.5,428.9 553.9,428.9 555.3,428.9 556.8,428.9 558.2,428.9 559.6,428.9 561.0,428.9 562.4,428.9 563.8,428.9 565.2,428.9 566.6,428.9 568.1,428.9 569.5,428.9 570.9,428.9 572.3,428.9 573.7,428.9 575.1,428.3 576.5,427.5 577.9,427.6 579.4,428.9 580.8,428.5 582.2,428.6 583.6,428.9 585.0,428.0 586.2,425.3 587.5,428.2 588.8,428.9 590.0,426.7 591.3,424.9 592.7,420.9 594.0,419.5 595.2,420.8 596.3,418.5 597.5,415.2" fill="none" stroke="#000" stroke-width="1.3" stroke-linejoin="round" stroke-linecap="butt" />
<polyline points="80.4,405.0 81.2,402.6 82.0,400.0 82.9,396.2 83.9,392.8 84.8,389.2 86.2,386.2 87.6,383.7 89.0,380.0 90.1,377.2 91.2,375.1 92.4,372.7 93.5,370.2 94.4,365.9 95.3,362.3 96.2,359.0 97.1,354.5 98.3,351.5 99.5,347.8 100.6,344.6 101.8,341.3 103.0,338.9 104.3,335.4 105.7,332.7 107.0,329.7 108.4,326.4 109.8,322.0 111.2,318.9 112.6,316.0 114.0,313.0 115.4,309.1 116.7,305.5 117.9,301.6 119.2,297.8 120.4,294.9 121.5,290.8 122.5,287.2 123.5,284.1 124.6,279.8 125.2,276.5 125.8,273.3 126.4,270.0 127.2,265.4 127.9,262.0 128.7,259.5 129.4,254.2 130.2,251.5 130.9,247.7 131.7,243.4 132.4,241.5 133.1,238.3 133.9,233.2 134.6,230.0 135.7,226.8 136.7,222.7 137.8,219.6 138.8,215.4 139.9,212.3 140.9,209.8 141.9,204.4 143.0,200.7 143.5,196.4 144.0,193.2 144.5,188.3 145.0,184.8 145.5,181.8 146.7,180.9 147.8,179.7 149.0,174.8 150.1,173.2 151.2,173.6 152.4,170.2 153.5,169.7 154.6,169.3 155.8,170.3 156.9,169.8 158.0,167.7 159.3,166.4 160.7,165.5 162.1,166.9 163.4,165.1 164.8,164.3 166.1,164.5 167.5,164.0 168.8,163.5 169.9,163.0 171.1,164.6 172.2,165.3 173.3,168.1 174.7,167.3 176.0,165.4 177.1,165.7 178.2,164.5 179.4,165.5 180.5,164.6 181.6,166.1 182.8,165.1 183.9,167.0 185.0,166.0 186.2,165.5 187.4,167.9 188.6,169.0 189.8,172.7 191.1,178.6 192.3,179.1 192.9,181.3 193.4,184.8 194.0,188.5 194.8,192.1 195.5,195.8 196.0,199.8 196.5,203.1 197.0,204.4 197.7,207.8 198.5,211.4 199.2,213.5 199.8,217.7 200.4,220.1 201.0,225.1 201.6,228.5 202.8,231.9 203.9,234.5 204.9,238.2 206.0,239.5 207.0,242.9 208.1,245.8 209.2,244.9 210.2,248.7 211.3,248.1 212.4,252.9 213.4,254.8 214.5,259.1 215.0,262.6 215.6,264.0 216.1,269.7 216.6,274.7 217.2,276.9 217.7,279.2 218.2,281.9 218.8,283.8 219.9,288.0 220.9,289.4 222.0,290.9 223.0,291.4 224.1,292.5 225.1,295.5 226.2,302.1 226.9,305.5 227.7,310.5 228.4,313.7 228.9,315.8 229.4,318.8 230.0,321.6 230.5,325.3 230.9,328.7 231.4,332.2 231.8,334.4 232.2,337.9 232.6,344.5 233.1,347.0 233.5,349.4 234.2,354.0 234.8,359.5 235.5,360.5 236.2,364.1 236.8,367.2 237.5,369.0 238.5,374.6 239.6,378.4 240.6,382.3 241.6,384.9 242.6,389.9 243.6,393.3 244.6,397.4 245.6,400.2 246.6,402.9 247.6,409.1 248.7,411.9 249.7,416.0 251.0,419.0 252.4,421.6 253.7,424.3 255.1,426.0 256.4,426.5 257.8,427.2 259.2,427.8 260.6,428.9 262.0,428.9 263.4,428.9 264.8,428.9 266.2,428.6 267.6,428.9 269.1,428.9 270.5,428.9 271.9,428.9 273.3,428.9 274.7,428.9 276.1,428.9 277.5,428.9 278.9,428.9 280.3,428.9 281.8,428.9 283.2,428.9 284.6,428.9 286.0,428.9 287.4,428.9 288.8,428.9 290.2,428.9 291.6,428.9 293.0,428.9 294.4,428.9 295.9,428.9 297.3,428.9 298.7,428.9 300.1,428.9 301.5,428.9 302.9,428.9 304.3,428.9 305.7,428.9 307.1,428.9 308.6,428.9 310.0,428.9 311.4,428.9 312.8,428.9 314.2,428.9 315.6,428.9 317.0,428.9 318.4,428.9 319.8,428.9 321.2,428.9 322.7,428.9 324.1,428.9 325.5,428.9 326.9,428.9 328.3,428.9 329.7,428.9 331.1,428.9 332.5,428.9 333.9,428.9 335.4,428.9 336.8,428.9 338.2,428.9 339.6,428.9 341.0,428.9 342.4,428.9 343.8,428.9 345.2,428.9 346.6,428.9 348.1,428.9 349.5,428.9 350.9,428.9 352.3,428.9 353.7,428.9 355.1,428.9 356.5,428.9 357.9,428.9 359.3,428.9 360.8,428.9 362.2,428.9 363.6,428.9 365.0,428.9 366.4,428.9 367.8,428.9 369.2,428.9 370.6,428.9 372.0,428.9 373.4,428.9 374.9,428.9 376.3,428.9 377.7,428.9 379.1,428.9 380.5,428.9 381.9,428.9 383.3,428.9 384.7,428.9 386.1,428.9 387.6,428.9 389.0,428.9 390.4,428.9 391.8,428.9 393.2,428.9 394.6,428.9 396.0,428.9 397.4,428.9 398.8,428.9 400.2,428.9 401.7,428.9 403.1,428.9 404.5,428.9 405.9,428.9 407.3,428.9 408.7,428.9 410.1,428.9 411.5,428.9 412.9,428.9 414.4,428.9 415.8,428.9 417.2,428.9 418.6,428.9 420.0,428.9 421.4,428.9 422.8,428.9 424.2,428.9 425.6,428.9 427.1,428.9 428.5,428.9 429.9,428.9 431.3,428.9 432.7,428.9 434.1,428.9 435.5,428.9 436.9,428.9 438.3,428.9 439.8,428.9 441.2,428.9 442.6,428.9 444.0,428.9 445.4,428.9 446.8,428.9 448.2,428.9 449.6,428.9 451.0,428.9 452.4,428.9 453.9,428.9 455.3,428.9 456.7,428.9 458.1,428.9 459.5,428.9 460.9,428.9 462.3,428.9 463.7,428.9 465.1,428.9 466.6,428.9 468.0,428.9 469.4,428.9 470.8,428.9 472.2,428.9 473.6,428.9 475.0,428.9 476.4,428.9 477.8,428.9 479.2,428.9 480.7,428.9 482.1,428.9 483.5,428.9 484.9,428.9 486.3,428.9 487.7,428.9 489.1,428.9 490.5,428.9 491.9,428.9 493.4,428.9 494.8,428.9 496.2,428.9 497.6,428.9 499.0,428.9 500.4,428.9 501.8,428.9 503.2,428.9 504.6,428.9 506.1,428.9 507.5,428.9 508.9,428.9 510.3,428.9 511.7,428.9 513.1,428.9 514.5,428.9 515.9,428.9 517.3,428.9 518.8,428.9 520.2,428.9 521.6,428.9 523.0,428.9 524.4,428.9 525.8,428.9 527.2,428.9 528.6,428.9 530.0,428.9 531.4,428.9 532.9,428.9 534.3,428.9 535.7,428.9 537.1,428.9 538.5,428.9 539.9,428.9 541.3,428.9 542.7,428.9 544.1,428.9 545.6,428.9 547.0,428.9 548.4,428.9 549.8,428.9 551.2,428.9 552.6,428.9 554.0,428.9 555.4,428.9 556.8,428.9 558.2,428.9 559.7,428.9 561.1,428.9 562.5,428.9 563.9,428.9 565.3,428.9 566.7,428.9 568.1,428.9 569.5,428.9 570.9,428.9 572.4,428.9 573.8,428.9 575.2,428.2 576.6,428.9 578.0,428.9 579.2,428.9 580.4,428.0 581.6,427.2 582.8,426.2 584.0,426.8 585.1,425.6 586.1,425.4 587.2,424.0 588.3,423.2 589.7,420.5 591.0,418.5 592.4,417.1 593.4,414.6 594.4,413.2 595.4,411.2 596.5,408.7 597.5,406.6" fill="none" stroke="#000" stroke-width="3.2" stroke-linejoin="round" stroke-linecap="butt" />
<polyline points="80.4,381.0 81.7,381.5 83.1,382.1 84.4,383.4 85.7,382.8 87.0,384.5 88.4,384.9 89.7,386.7 91.0,387.7 92.3,388.6 93.7,388.8 95.0,388.5 96.4,389.5 97.7,390.6 99.1,389.7 100.5,390.6 101.8,390.7 103.2,392.1 104.5,391.2 105.9,391.6 107.3,392.5 108.6,392.9 110.0,392.0 111.4,393.0 112.7,393.0 114.1,392.9 115.5,393.0 116.8,393.3 118.2,392.0 119.5,394.2 120.9,393.2 122.3,392.1 123.6,393.4 125.0,395.1 126.4,393.6 127.7,394.3 129.1,394.2 130.5,392.1 131.8,390.0 133.2,389.9 134.5,391.3 135.9,390.0 137.3,388.8 138.6,388.2 140.0,388.5 141.2,386.9 142.5,386.5 143.8,385.6 145.0,380.2 146.2,378.7 147.5,374.2 148.8,374.8 150.0,368.5 151.3,364.4 152.7,375.6 154.0,368.1 155.3,366.6 156.7,372.4 158.0,364.8 159.2,355.8 160.5,351.3 161.8,344.1 163.0,347.2 164.2,344.5 165.5,353.6 166.8,348.2 168.0,347.5 169.2,343.4 170.5,344.4 171.8,340.5 173.0,342.1 173.8,331.6 174.7,329.4 175.5,333.2 176.3,322.3 177.2,319.7 178.0,320.7 178.9,313.9 179.7,304.2 180.6,293.0 181.4,304.8 182.3,297.7 183.1,296.2 184.0,286.1 184.8,289.3 185.5,282.2 186.2,275.4 187.0,266.7 187.8,266.3 188.5,259.9 189.2,256.3 190.0,246.8 190.7,245.6 191.4,245.0 192.1,236.4 192.9,236.3 193.6,235.9 194.3,229.1 195.0,222.1 196.0,217.2 197.0,221.4 198.0,206.3 199.0,205.7 200.0,202.0 201.2,202.1 202.5,198.9 203.8,190.1 205.0,202.4 206.0,193.1 207.0,179.5 208.0,175.2 208.6,176.3 209.2,176.5 209.8,163.0 210.4,167.2 211.0,154.3 211.7,151.3 212.3,156.8 213.0,160.7 213.8,149.4 214.6,142.3 215.3,146.1 216.1,132.0 216.3,132.1 216.5,129.2 216.8,129.8 217.0,123.3 217.2,115.7 217.4,115.5 217.6,103.5 217.8,107.9 218.0,98.7 218.1,92.2 218.3,90.8 218.5,90.3 218.7,91.5 218.9,91.7 219.1,99.6 219.3,106.0 219.6,104.7 219.8,102.3 220.0,114.6 220.2,117.6 220.3,108.3 220.5,114.4 220.7,125.1 220.9,122.7 221.0,128.4 221.2,127.1 221.5,140.5 221.8,146.0 222.1,149.7 222.4,160.0 222.7,155.7 223.0,157.0 224.0,172.9 225.0,162.3 226.0,172.9 227.3,167.1 228.7,176.1 230.0,191.3 231.0,188.6 232.0,184.8 233.0,203.5 234.0,195.9 235.0,198.2 236.0,204.4 237.0,200.1 238.0,215.0 239.0,224.9 240.0,224.1 241.0,225.7 242.0,227.1 243.2,233.8 244.5,222.0 245.8,232.9 247.0,240.0 248.2,235.6 249.5,246.3 250.8,249.6 252.0,253.3 252.8,257.3 253.6,262.8 254.4,266.2 255.2,263.5 256.0,268.7 256.6,272.2 257.1,276.5 257.7,277.5 258.3,286.4 258.9,292.8 259.4,297.9 260.0,303.5 260.8,306.2 261.7,301.9 262.5,302.7 263.3,306.6 264.2,314.4 265.0,316.9 266.4,324.5 267.8,332.1 269.2,328.6 270.6,335.8 272.0,335.0 273.3,332.8 274.7,334.0 276.0,340.0 277.3,337.2 278.7,347.8 280.0,356.7 281.2,350.1 282.5,352.9 283.8,362.7 285.0,362.3 286.2,362.9 287.5,362.7 288.8,369.1 290.0,369.6 291.2,365.1 292.5,359.7 293.8,358.4 295.0,371.5 296.2,372.9 297.5,380.3 298.8,380.1 300.0,375.1 301.4,379.2 302.7,383.8 304.1,379.3 305.5,379.9 306.8,387.1 308.2,380.3 309.5,380.9 310.9,387.3 312.3,387.8 313.6,385.6 315.0,385.1 316.4,389.5 317.7,392.6 319.1,393.1 320.5,392.8 321.8,394.9 323.2,393.9 324.5,392.2 325.9,396.2 327.3,393.1 328.6,394.0 330.0,394.7 331.4,396.6 332.7,394.7 334.1,394.8 335.5,393.2 336.8,395.1 338.2,395.9 339.5,396.5 340.9,394.9 342.3,395.9 343.6,395.0 345.0,395.3 346.4,396.0 347.7,398.0 349.1,396.7 350.5,397.2 351.8,396.4 353.2,396.6 354.5,396.8 355.9,397.7 357.3,399.2 358.6,397.7 360.0,399.6 361.4,398.4 362.8,399.7 364.2,399.2 365.6,399.6 367.0,399.8 368.4,401.8 369.8,401.6 371.2,402.8 372.6,401.8 374.0,402.0 375.4,404.4 376.8,401.8 378.2,402.3 379.6,403.6 381.0,406.7 382.4,405.2 383.8,406.8 385.2,408.5 386.6,407.4 388.0,407.5 389.4,409.9 390.8,408.5 392.2,407.7 393.6,409.9 395.0,409.2 396.4,410.9 397.7,410.4 399.1,407.5 400.5,408.7 401.8,408.5 403.2,407.3 404.5,408.6 405.9,405.3 407.3,404.5 408.6,404.6 410.0,405.6 411.4,402.8 412.7,402.4 414.1,401.7 415.5,400.1 416.8,400.4 418.2,399.1 419.5,399.1 420.9,399.4 422.3,397.8 423.6,396.9 425.0,396.1 426.4,395.5 427.7,394.1 429.1,393.7 430.5,394.7 431.8,393.4 433.2,397.4 434.5,393.6 435.9,393.6 437.3,391.1 438.6,391.5 440.0,391.0 441.4,391.2 442.7,392.8 444.1,391.4 445.5,389.7 446.8,390.6 448.2,389.6 449.5,390.2 450.9,392.3 452.3,392.2 453.6,392.2 455.0,391.5 456.4,390.6 457.7,388.5 459.1,388.9 460.5,388.8 461.8,390.0 463.2,390.4 464.5,389.7 465.9,387.7 467.3,389.8 468.6,389.7 470.0,387.4 471.4,387.0 472.7,387.1 474.1,386.3 475.5,385.7 476.8,386.0 478.2,385.4 479.5,385.4 480.9,383.2 482.3,382.6 483.6,386.2 485.0,383.5 486.4,384.6 487.7,384.4 489.1,383.9 490.4,382.4 491.8,383.5 493.1,382.7 494.4,381.3 495.8,379.3 497.1,379.6 498.5,378.8 499.9,377.4 501.2,378.3 502.6,378.3 503.9,378.0 505.2,376.6 506.6,375.1 507.9,375.7 509.3,374.8 510.6,375.7 512.0,373.3 513.4,370.1 514.8,370.7 516.2,371.7 517.5,368.9 518.9,366.9 520.3,365.1 521.7,366.7 523.1,364.1 524.5,362.6 525.8,362.1 527.2,359.3 528.6,359.0 530.0,357.2 531.3,358.2 532.7,359.2 534.0,360.0 535.3,358.7 536.7,359.8 538.0,358.8 539.3,357.0 540.7,359.1 542.0,359.0 543.3,359.4 544.7,356.6 546.0,359.1 547.3,360.2 548.7,360.7 550.0,362.1 551.3,361.3 552.7,364.2 554.0,363.9 555.3,364.0 556.7,361.0 558.0,361.1 559.3,365.5 560.7,366.0 562.0,367.2 563.3,366.4 564.7,366.8 566.0,368.0 567.3,367.0 568.7,369.4 570.0,367.5 571.3,368.8 572.7,368.8 574.0,369.8 575.3,371.3 576.7,369.3 578.0,370.7 579.3,370.9 580.7,372.0 582.0,371.6 583.3,371.2 584.7,372.5 586.0,374.2 587.3,374.4 588.7,374.0 590.0,374.6 591.3,373.4 592.7,375.0 594.0,376.6 595.3,377.5 596.7,378.3 598.0,380.0" fill="none" stroke="#ff0000" stroke-width="1.3" stroke-linejoin="round" stroke-linecap="butt" />
<polyline points="80.4,385.9 81.7,386.8 83.1,385.9 84.4,387.5 85.7,388.6 87.0,387.9 88.4,388.6 89.7,388.9 91.0,388.8 92.3,388.7 93.7,388.1 95.0,390.6 96.4,390.8 97.7,393.1 99.1,393.0 100.5,392.9 101.8,392.6 103.2,394.4 104.5,393.9 105.9,395.6 107.3,395.0 108.6,395.6 110.0,394.9 111.4,396.9 112.7,395.6 114.1,394.7 115.5,395.1 116.8,393.8 118.2,394.3 119.5,392.9 120.9,393.5 122.3,392.4 123.6,391.3 125.0,391.6 126.4,390.6 127.7,391.3 129.1,390.7 130.5,390.4 131.8,389.6 133.2,388.5 134.5,388.0 135.9,388.2 137.3,386.9 138.6,385.7 140.0,384.6 141.2,384.0 142.5,382.3 143.8,385.7 145.0,380.4 146.2,377.8 147.5,378.2 148.8,380.6 150.0,377.8 151.3,371.2 152.7,367.9 154.0,366.9 155.3,370.2 156.7,360.9 158.0,359.8 159.2,355.3 160.4,355.9 161.6,354.4 162.8,343.9 164.0,355.2 165.2,351.6 166.4,348.5 167.6,347.0 168.8,350.3 170.0,353.6 171.0,353.0 172.0,347.7 173.0,345.7 174.0,333.5 175.0,330.9 176.0,326.4 176.8,327.4 177.5,326.2 178.2,314.9 179.0,314.3 179.8,315.2 180.5,313.3 181.2,301.8 182.0,302.4 182.8,298.7 183.5,291.7 184.2,296.4 185.0,282.6 185.8,279.1 186.5,278.3 187.2,274.4 188.0,268.9 188.7,270.8 189.4,269.0 190.1,263.7 190.9,259.8 191.6,251.7 192.3,242.2 193.0,250.1 193.7,237.6 194.4,244.3 195.1,235.1 195.9,231.0 196.6,225.2 197.3,227.1 198.0,217.3 199.2,226.2 200.4,220.3 201.6,215.2 202.8,208.1 204.0,209.2 205.3,205.1 206.7,211.7 208.0,206.0 208.8,187.5 209.6,195.7 210.4,173.9 211.2,185.6 212.0,167.4 213.0,169.4 214.0,171.5 215.0,164.7 216.0,153.9 217.0,160.9 218.0,144.0 219.0,138.2 219.8,156.4 220.5,152.2 221.2,159.4 222.0,167.2 222.8,167.3 223.6,172.2 224.4,175.7 225.2,180.0 226.0,189.4 226.8,193.8 227.6,194.7 228.4,201.1 229.2,198.1 230.0,199.0 231.2,200.6 232.4,213.6 233.6,224.9 234.2,215.0 234.8,198.3 235.4,198.7 236.0,201.5 236.5,199.2 237.0,195.0 237.5,196.1 238.0,193.6 238.5,178.0 239.3,180.3 240.2,172.9 241.0,171.9 242.3,179.5 243.6,186.0 244.0,185.9 244.4,183.4 244.7,185.5 245.1,192.0 245.5,190.2 246.0,196.1 246.5,203.3 247.0,209.4 247.5,209.1 248.0,214.5 248.6,222.3 249.2,222.8 249.8,217.3 250.4,225.8 251.0,230.9 251.8,232.1 252.5,236.6 253.2,234.2 254.0,246.7 254.7,250.0 255.3,249.9 256.0,255.7 256.7,259.7 257.3,259.7 258.0,255.1 258.7,255.6 259.3,277.9 260.0,274.7 260.7,279.6 261.3,287.3 262.0,288.5 263.0,297.7 264.0,294.6 265.0,302.3 266.0,296.7 267.0,308.9 268.0,315.0 269.4,317.7 270.8,320.5 272.2,323.5 273.6,329.0 275.0,333.3 276.4,328.4 277.8,336.6 279.2,332.7 280.6,337.7 282.0,339.2 283.3,344.0 284.7,343.5 286.0,347.8 287.3,347.0 288.7,346.3 290.0,355.7 291.3,357.2 292.5,358.3 293.8,361.2 295.1,355.5 296.3,361.9 297.6,357.7 298.8,363.0 300.1,364.0 301.3,367.1 302.5,370.6 303.8,370.8 305.0,369.5 306.3,375.6 307.7,379.2 309.0,380.1 310.3,382.5 311.7,377.5 313.0,381.9 314.3,383.2 315.7,380.3 317.0,384.6 318.3,386.4 319.7,384.8 321.0,386.5 322.3,389.4 323.7,391.9 325.0,393.5 326.4,391.7 327.7,391.8 329.1,393.1 330.5,394.4 331.8,394.6 333.2,395.5 334.5,397.3 335.9,398.1 337.3,398.1 338.6,396.9 340.0,397.6 341.4,399.0 342.8,399.9 344.2,400.4 345.6,398.1 346.9,398.1 348.3,397.1 349.7,394.8 351.1,396.1 352.5,395.5 353.9,398.9 355.3,398.7 356.7,397.2 358.1,397.5 359.4,397.8 360.8,399.4 362.2,398.6 363.6,399.2 365.0,398.2 366.4,398.8 367.8,399.1 369.2,398.7 370.6,397.6 372.0,398.5 373.4,397.2 374.8,399.0 376.2,397.7 377.6,397.0 379.0,399.8 380.4,398.2 381.8,398.5 383.2,397.3 384.6,397.5 386.0,398.2 387.4,397.8 388.8,400.4 390.2,399.1 391.6,398.3 393.0,401.0 394.4,401.5 395.8,398.4 397.2,399.8 398.6,402.2 400.0,401.2 401.4,401.3 402.7,401.4 404.1,399.0 405.5,399.9 406.8,402.0 408.2,403.4 409.5,401.9 410.9,401.4 412.3,401.8 413.6,401.3 415.0,401.4 416.4,399.5 417.7,399.8 419.1,400.1 420.5,399.9 421.8,397.1 423.2,398.6 424.5,397.8 425.9,397.3 427.3,394.6 428.6,395.4 430.0,393.5 431.4,391.4 432.7,393.4 434.1,393.5 435.5,393.3 436.8,393.0 438.2,392.4 439.5,393.1 440.9,392.7 442.3,393.2 443.6,394.1 445.0,392.0 446.4,391.1 447.7,391.7 449.1,388.4 450.5,387.7 451.8,387.7 453.2,385.3 454.5,387.1 455.9,387.9 457.3,384.5 458.6,383.6 460.0,385.0 461.4,385.5 462.7,381.9 464.1,383.0 465.5,382.2 466.8,379.8 468.2,380.4 469.5,380.2 470.9,380.7 472.3,380.6 473.6,380.1 475.0,379.9 476.4,379.7 477.7,380.2 479.1,380.7 480.5,380.7 481.8,378.5 483.2,377.7 484.5,377.4 485.9,379.6 487.3,379.0 488.6,377.2 490.0,376.0 491.3,375.2 492.7,375.7 494.0,374.0 495.3,374.3 496.7,375.5 498.0,373.5 499.3,373.7 500.7,370.6 502.0,371.3 503.3,371.0 504.7,369.0 506.0,370.6 507.3,369.0 508.7,367.2 510.0,366.7 511.4,367.5 512.8,364.6 514.2,365.1 515.5,363.5 516.9,363.9 518.3,362.8 519.7,362.5 521.1,363.0 522.5,361.9 523.8,361.8 525.2,361.5 526.6,360.7 528.0,359.9 529.3,360.0 530.7,360.9 532.0,362.1 533.3,363.4 534.7,363.9 536.0,361.1 537.3,361.9 538.7,362.5 540.0,363.6 541.3,363.9 542.7,361.3 544.0,362.5 545.3,360.7 546.7,361.6 548.0,361.4 549.3,362.1 550.7,365.1 552.0,363.9 553.3,363.9 554.7,364.9 556.0,366.7 557.3,364.3 558.7,367.8 560.0,366.5 561.3,366.3 562.7,367.9 564.0,369.4 565.3,372.6 566.7,371.9 568.0,370.4 569.3,370.6 570.7,370.1 572.0,372.0 573.3,373.0 574.7,372.2 576.0,373.9 577.3,371.3 578.7,372.2 580.0,372.1 581.3,372.7 582.7,371.9 584.0,374.8 585.3,373.7 586.7,374.5 588.0,376.4 589.2,378.5 590.5,379.4 591.8,376.5 593.0,378.6 594.2,379.9 595.5,380.7 596.8,381.5 598.0,382.8" fill="none" stroke="#ff0000" stroke-width="1.3" stroke-linejoin="round" stroke-linecap="butt" />
<polyline points="80.4,381.6 81.7,382.0 83.1,382.4 84.4,383.6 85.7,383.9 87.0,384.6 88.4,385.7 89.7,386.4 91.0,386.7 92.3,386.5 93.7,386.6 95.0,386.9 96.4,387.4 97.7,387.8 99.1,387.4 100.5,387.3 101.8,388.5 103.2,387.5 104.5,388.5 105.9,389.4 107.3,388.9 108.6,388.8 110.0,389.1 111.4,390.4 112.7,390.4 114.1,389.2 115.5,390.0 116.8,391.3 118.2,391.7 119.5,391.6 120.9,390.9 122.3,389.6 123.6,390.6 125.0,390.7 126.4,390.2 127.7,390.6 129.1,389.3 130.5,388.5 131.8,388.2 133.2,387.1 134.5,386.2 135.9,385.6 137.3,386.3 138.6,386.1 140.0,385.1 141.2,384.8 142.5,382.4 143.8,377.7 145.0,378.5 146.2,375.9 147.5,370.4 148.8,372.5 150.0,368.7 151.2,364.2 152.3,364.3 153.5,349.7 154.7,346.4 155.8,346.3 157.0,346.4 158.2,341.0 159.5,336.1 160.8,332.5 162.0,333.5 163.3,336.2 164.7,326.6 166.0,319.8 167.2,329.6 168.5,334.7 169.8,336.6 171.0,346.3 171.7,345.3 172.4,336.7 173.1,332.6 173.9,332.8 174.6,326.1 175.3,317.4 176.0,318.1 177.0,311.8 178.0,312.4 179.0,306.3 180.0,303.1 181.0,302.1 182.0,296.5 183.0,290.0 184.0,283.8 185.0,290.1 186.0,286.7 186.9,272.9 187.7,268.1 188.6,270.7 189.4,264.3 190.3,262.3 191.1,262.3 192.0,257.1 193.0,252.1 194.0,246.7 195.0,243.9 196.0,243.3 197.0,247.9 197.8,242.7 198.7,231.4 199.5,231.2 200.3,223.9 201.2,210.1 202.0,210.5 202.3,213.7 202.7,203.0 203.0,205.2 203.3,196.2 203.7,192.3 204.0,181.7 204.3,193.3 204.7,185.2 205.0,182.9 205.5,171.9 205.9,160.5 206.4,169.2 206.9,158.9 207.3,166.2 207.8,156.1 208.0,160.2 208.1,146.1 208.2,133.7 208.4,140.8 208.9,136.9 209.4,133.9 209.9,136.6 210.4,124.9 210.7,124.1 211.0,127.4 211.4,128.5 211.7,131.1 212.0,137.7 212.6,144.0 213.1,151.5 213.7,152.4 214.3,161.2 214.9,171.4 215.4,171.9 216.0,178.2 217.2,169.4 218.5,171.7 219.8,171.7 221.0,163.9 221.6,154.0 222.1,155.8 222.7,154.8 223.3,159.7 223.9,148.7 224.4,153.8 225.0,130.9 226.0,132.8 226.9,129.8 227.9,127.0 228.9,122.7 229.1,122.0 229.3,128.7 229.5,118.8 230.5,120.1 231.5,110.8 232.4,112.7 233.4,101.6 233.6,113.8 233.7,122.4 233.8,117.7 234.0,121.3 234.2,123.6 234.3,142.7 234.5,134.3 234.7,135.6 235.1,128.0 235.5,134.5 235.8,148.7 236.2,147.6 236.6,141.9 237.0,156.1 237.6,165.2 238.2,171.4 238.8,176.5 239.4,175.4 240.0,192.7 241.0,187.0 242.0,191.9 243.0,189.4 244.0,193.9 245.0,194.5 245.7,204.2 246.4,207.5 247.1,208.9 247.9,208.2 248.6,221.0 249.3,228.9 250.0,234.2 250.8,235.1 251.7,241.4 252.5,247.1 253.3,250.2 254.2,257.6 255.0,256.4 256.0,260.0 257.0,256.9 258.0,272.8 259.3,268.1 260.7,272.8 262.0,277.3 263.0,275.5 264.0,280.2 265.0,286.8 266.0,287.9 267.2,288.9 268.4,290.9 269.5,291.7 270.7,295.9 271.6,301.7 272.4,306.1 273.3,312.4 274.1,312.6 275.0,312.9 276.2,319.8 277.5,321.7 278.8,326.8 280.0,326.9 281.2,330.4 282.4,332.8 283.6,336.8 284.8,333.3 286.0,337.6 287.2,342.0 288.4,351.3 289.6,348.9 290.8,352.2 292.0,352.5 293.3,346.9 294.7,358.8 296.0,361.6 297.3,365.8 298.7,359.5 300.0,364.6 301.2,366.6 302.5,362.9 303.8,369.1 305.0,368.8 306.2,373.0 307.5,369.4 308.8,371.7 310.0,374.0 311.3,373.3 312.7,377.7 314.0,382.6 315.3,381.8 316.7,383.6 318.0,386.6 319.3,386.3 320.7,385.3 322.0,383.2 323.4,386.7 324.8,387.1 326.2,387.4 327.5,389.5 328.9,390.2 330.3,388.3 331.7,390.2 333.1,390.4 334.5,392.1 335.8,391.9 337.2,393.2 338.6,392.0 340.0,392.2 341.4,392.1 342.7,392.6 344.1,392.7 345.5,394.5 346.8,392.5 348.2,393.2 349.5,392.0 350.9,391.4 352.3,392.1 353.6,391.3 355.0,393.0 356.4,392.4 357.7,392.4 359.1,393.6 360.5,395.2 361.8,393.4 363.2,391.3 364.5,392.6 365.9,393.6 367.3,395.4 368.6,395.0 370.0,394.2 371.4,396.4 372.8,397.7 374.2,397.1 375.6,397.9 377.0,398.8 378.4,402.1 379.8,400.0 381.2,400.1 382.6,401.0 384.0,402.7 385.4,402.5 386.8,403.7 388.2,404.9 389.6,406.7 391.0,405.1 392.4,404.6 393.8,404.6 395.2,403.0 396.6,403.4 398.0,405.0 399.4,405.5 400.8,408.4 402.2,407.7 403.6,406.8 405.0,407.3 406.4,404.6 407.7,403.6 409.1,402.7 410.5,402.8 411.8,405.2 413.2,402.9 414.5,401.5 415.9,401.7 417.3,402.4 418.6,402.0 420.0,402.1 421.4,399.6 422.7,399.0 424.1,399.4 425.5,399.7 426.8,401.1 428.2,398.3 429.5,399.5 430.9,398.7 432.3,399.3 433.6,397.8 435.0,396.4 436.4,398.6 437.7,398.0 439.1,395.1 440.5,397.0 441.8,395.5 443.2,395.8 444.5,395.9 445.9,394.2 447.3,396.4 448.6,395.0 450.0,396.9 451.4,396.0 452.7,395.6 454.1,395.1 455.5,396.6 456.8,393.5 458.2,392.6 459.5,392.2 460.9,393.9 462.3,393.9 463.6,392.5 465.0,391.8 466.4,389.0 467.7,391.3 469.1,389.5 470.5,388.8 471.8,387.5 473.2,387.6 474.5,386.0 475.9,385.3 477.3,384.5 478.6,382.9 480.0,381.8 481.4,382.1 482.7,381.7 484.1,381.6 485.5,382.0 486.8,378.8 488.2,376.9 489.5,377.8 490.9,379.9 492.3,379.0 493.6,376.7 495.0,380.0 496.4,379.5 497.7,376.9 499.1,376.8 500.4,377.8 501.8,377.2 503.1,377.5 504.5,378.2 505.8,377.7 507.2,379.0 508.5,377.4 509.9,378.7 511.2,376.5 512.6,374.8 513.9,373.0 515.3,373.4 516.6,374.2 518.0,375.0 519.4,369.6 520.8,371.3 522.2,370.1 523.5,371.0 524.9,369.2 526.3,368.9 527.7,369.8 529.1,367.4 530.5,365.7 531.8,365.8 533.2,364.3 534.6,362.6 536.0,359.9 537.3,360.4 538.7,358.9 540.0,360.3 541.3,361.0 542.7,360.5 544.0,362.2 545.3,359.1 546.7,359.8 548.0,359.5 549.3,357.9 550.7,359.3 552.0,360.0 553.3,360.5 554.7,359.1 556.0,359.7 557.3,358.9 558.7,361.4 560.0,363.0 561.3,362.0 562.7,362.2 564.0,361.3 565.3,362.7 566.7,363.1 568.0,364.4 569.3,363.4 570.7,367.2 572.0,367.1 573.3,368.5 574.7,368.7 576.0,368.3 577.4,371.4 578.8,372.0 580.2,369.8 581.5,371.3 582.9,372.1 584.3,372.2 585.7,376.1 587.1,374.0 588.5,376.9 589.8,374.6 591.2,377.8 592.6,377.1 594.0,375.4 595.3,379.2 596.7,381.7 598.0,382.0" fill="none" stroke="#ff0000" stroke-width="1.3" stroke-linejoin="round" stroke-linecap="butt" stroke-dasharray="9,4" />
<polyline points="80.4,381.3 81.7,382.8 83.1,383.4 84.4,382.7 85.7,383.0 87.0,383.2 88.4,384.4 89.7,384.6 91.0,385.5 92.3,384.2 93.7,386.5 95.0,386.2 96.4,387.3 97.7,387.5 99.1,387.9 100.5,389.0 101.8,390.1 103.2,390.1 104.5,390.6 105.9,391.8 107.3,391.4 108.6,391.3 110.0,393.1 111.4,393.1 112.7,392.5 114.1,393.4 115.5,394.1 116.8,394.1 118.2,394.1 119.5,395.4 120.9,396.6 122.3,396.3 123.6,396.1 125.0,397.0 126.4,396.5 127.7,395.1 129.1,394.6 130.5,394.3 131.8,392.7 133.2,391.3 134.5,391.1 135.9,390.5 137.3,390.5 138.6,388.3 140.0,387.5 141.2,385.8 142.5,382.8 143.8,383.9 145.0,384.4 146.2,380.9 147.5,384.6 148.8,383.8 150.0,383.2 151.3,380.1 152.7,380.2 154.0,369.1 155.3,372.8 156.7,372.5 158.0,360.9 159.4,364.6 160.8,361.4 162.2,363.2 163.6,356.7 165.0,354.9 166.4,353.7 167.8,346.1 169.2,348.2 170.6,343.7 172.0,342.8 173.3,335.8 174.7,338.3 176.0,334.6 177.3,332.8 178.7,336.8 180.0,341.4 181.3,341.1 182.7,325.1 184.0,327.7 185.0,324.5 186.0,318.9 187.0,311.3 188.0,315.7 189.0,304.3 190.0,305.7 190.5,306.4 191.0,292.3 191.5,290.7 192.0,283.6 192.5,285.1 193.0,288.0 193.3,288.6 193.7,271.1 194.0,268.3 194.3,270.2 194.7,271.9 195.0,266.8 195.2,255.7 195.5,255.6 195.8,251.4 196.0,246.6 196.2,239.9 196.5,241.5 197.1,239.0 197.8,233.5 198.4,228.6 199.0,218.7 200.0,217.9 201.0,224.5 202.0,216.4 203.2,205.1 204.4,214.5 205.6,210.7 206.8,215.8 208.0,203.9 209.2,195.2 210.4,184.9 211.6,194.5 212.8,201.9 214.0,183.4 215.2,175.8 216.5,177.6 217.8,167.6 219.0,165.0 220.0,161.0 221.0,159.9 222.0,161.8 223.0,153.8 224.0,153.5 224.8,151.5 225.6,157.8 226.4,149.2 227.2,153.3 228.0,169.6 229.3,162.5 230.7,164.4 232.0,162.4 232.5,170.8 233.0,173.1 233.5,177.6 234.0,175.3 234.5,174.1 235.0,176.1 235.5,180.6 236.0,181.1 236.8,187.3 237.6,194.5 238.4,201.4 239.2,203.2 240.0,201.0 240.8,210.6 241.6,217.6 242.4,226.2 243.2,229.8 244.0,229.1 245.2,230.1 246.5,243.4 247.8,244.3 249.0,250.9 250.2,256.1 251.5,247.8 252.8,252.0 254.0,255.5 255.3,259.0 256.7,261.9 258.0,263.3 259.3,266.8 260.7,263.9 262.0,271.1 263.0,273.3 264.0,279.9 265.0,281.9 266.0,289.3 267.0,294.7 268.0,296.6 269.0,299.6 270.0,302.0 271.0,303.2 272.0,307.2 273.0,309.7 274.0,316.7 275.0,319.9 276.2,325.6 277.3,322.1 278.5,332.5 279.7,331.5 280.8,333.9 282.0,339.4 283.2,340.6 284.5,345.8 285.8,345.4 287.0,344.7 288.2,346.9 289.5,357.7 290.8,357.2 292.0,353.9 293.3,358.4 294.7,355.1 296.0,367.4 297.3,360.3 298.7,366.2 300.0,369.2 301.3,364.6 302.7,369.9 304.0,374.5 305.4,375.0 306.8,375.3 308.2,378.0 309.6,377.5 311.0,378.6 312.4,378.6 313.8,381.2 315.2,379.3 316.6,383.4 318.0,382.8 319.4,381.6 320.8,384.4 322.2,387.8 323.5,387.8 324.9,385.9 326.3,387.5 327.7,386.7 329.1,387.4 330.5,388.2 331.8,386.0 333.2,388.6 334.6,388.4 336.0,389.1 337.4,388.5 338.7,388.5 340.1,389.4 341.5,392.0 342.8,394.0 344.2,392.9 345.5,394.2 346.9,393.4 348.3,391.6 349.6,393.8 351.0,395.2 352.4,395.0 353.7,396.1 355.1,397.2 356.5,396.2 357.8,395.6 359.2,397.3 360.5,398.2 361.9,398.6 363.3,400.7 364.6,402.5 366.0,400.9 367.4,402.0 368.8,402.9 370.2,403.2 371.6,403.9 373.0,402.7 374.3,403.8 375.7,405.7 377.1,405.0 378.5,403.3 379.9,404.2 381.3,405.4 382.7,404.7 384.1,403.5 385.5,405.7 386.9,403.2 388.3,404.6 389.7,404.6 391.0,403.4 392.4,406.1 393.8,406.1 395.2,404.7 396.6,406.6 398.0,406.3 399.4,404.4 400.7,405.2 402.1,406.6 403.5,407.4 404.8,407.1 406.2,406.8 407.5,407.2 408.9,406.5 410.3,407.7 411.6,406.7 413.0,406.4 414.4,406.4 415.7,404.3 417.1,403.8 418.5,405.9 419.8,404.8 421.2,403.4 422.5,403.4 423.9,402.0 425.3,402.1 426.6,400.6 428.0,400.9 429.4,398.3 430.7,400.4 432.1,398.5 433.5,396.3 434.8,396.8 436.2,396.5 437.5,396.6 438.9,394.9 440.3,395.9 441.6,399.7 443.0,394.9 444.4,395.2 445.7,394.3 447.1,394.4 448.5,392.0 449.8,391.8 451.2,393.4 452.5,393.1 453.9,394.7 455.3,392.3 456.6,392.3 458.0,395.2 459.4,391.7 460.7,390.3 462.1,390.6 463.5,390.5 464.8,391.2 466.2,390.3 467.5,388.7 468.9,389.0 470.3,391.5 471.6,390.3 473.0,385.0 474.4,386.0 475.7,385.1 477.1,386.2 478.5,385.2 479.8,387.0 481.2,386.0 482.5,385.4 483.9,384.2 485.3,383.3 486.6,383.3 488.0,384.2 489.4,383.1 490.8,381.4 492.2,382.4 493.6,381.2 495.1,380.2 496.5,378.8 497.9,378.4 499.3,377.9 500.7,375.0 502.1,378.3 503.5,378.4 504.9,377.3 506.4,378.1 507.8,377.3 509.2,376.7 510.6,372.9 512.0,373.9 513.4,374.4 514.8,375.2 516.2,375.1 517.5,373.9 518.9,369.9 520.3,366.9 521.7,368.4 523.1,367.6 524.5,367.7 525.8,365.8 527.2,365.0 528.6,362.1 530.0,362.9 531.3,362.2 532.7,362.8 534.0,363.0 535.3,362.4 536.7,362.7 538.0,362.4 539.3,363.1 540.7,363.1 542.0,361.9 543.3,361.5 544.7,364.1 546.0,362.8 547.3,363.7 548.7,363.3 550.0,362.2 551.3,362.2 552.7,363.6 554.0,364.6 555.3,365.7 556.7,364.3 558.0,365.1 559.3,366.3 560.7,369.0 562.0,365.6 563.3,368.2 564.7,368.1 566.0,369.4 567.3,368.9 568.7,369.9 570.0,371.6 571.3,371.0 572.7,371.2 574.0,371.3 575.3,370.1 576.7,371.4 578.0,370.9 579.3,370.2 580.7,371.0 582.0,371.1 583.3,372.4 584.7,372.1 586.0,371.8 587.3,374.3 588.7,374.9 590.0,375.8 591.3,376.4 592.7,376.7 594.0,377.4 595.3,378.7 596.7,381.5 598.0,382.4" fill="none" stroke="#ff0000" stroke-width="1.3" stroke-linejoin="round" stroke-linecap="butt" stroke-dasharray="9,4" />
<polyline points="80.4,383.0 81.8,383.6 83.1,384.1 84.5,384.6 85.9,385.2 87.3,385.2 88.6,385.5 90.0,385.7 91.2,386.2 92.5,386.8 93.8,387.2 95.0,387.6 96.2,387.6 97.5,388.1 98.8,388.4 100.0,389.2 101.2,389.5 102.5,389.9 103.8,390.0 105.0,390.2 106.2,390.5 107.5,390.6 108.8,390.7 110.0,391.0 111.3,391.0 112.7,391.1 114.0,391.3 115.3,391.4 116.7,391.8 118.0,391.7 119.3,391.8 120.7,391.5 122.0,391.3 123.3,390.9 124.7,390.9 126.0,390.8 127.4,390.3 128.8,389.6 130.2,389.1 131.6,388.9 133.0,388.3 134.4,387.4 135.8,387.0 137.2,386.3 138.6,385.8 140.0,385.3 141.2,384.1 142.4,382.3 143.6,381.3 144.8,380.8 146.0,379.6 147.3,378.4 148.7,377.6 150.0,375.1 151.2,374.5 152.4,373.9 153.6,372.0 154.8,370.2 156.0,368.2 157.2,365.7 158.5,360.0 159.8,354.8 161.0,350.8 162.3,348.3 163.7,345.8 165.0,344.8 166.1,345.1 167.2,345.1 168.4,342.2 169.5,339.7 170.7,339.6 171.8,339.3 173.0,338.9 174.1,338.8 175.2,338.9 176.3,337.2 177.4,333.5 178.5,327.6 179.5,322.3 180.5,319.3 181.0,317.0 181.5,314.4 182.0,311.3 182.8,308.3 183.7,305.2 184.5,299.2 185.3,295.3 186.2,293.1 187.0,290.5 187.7,284.6 188.4,282.5 189.1,277.8 189.8,273.6 190.5,270.1 191.2,266.9 191.9,260.9 192.6,258.5 193.3,254.4 194.0,249.4 194.5,245.6 195.0,238.6 195.5,235.4 196.0,233.3 196.4,229.1 196.8,225.7 197.1,222.5 197.5,219.3 198.2,217.1 198.8,212.6 199.5,208.0 200.6,205.5 201.6,205.0 202.7,199.7 203.8,196.6 205.0,190.3 206.1,189.6 207.3,187.0 208.4,185.1 209.3,179.8 210.1,173.5 211.0,171.0 211.8,167.8 212.6,161.7 213.4,155.6 214.2,153.2 215.3,150.8 216.4,152.5 217.6,147.7 218.7,143.9 219.8,145.4 220.8,144.7 221.9,146.1 222.7,153.1 223.6,155.9 224.4,158.2 225.7,154.1 227.0,153.5 228.3,152.3 229.6,155.0 230.8,156.7 231.5,160.4 232.1,164.0 232.8,165.8 233.4,170.1 234.3,170.2 235.1,172.8 236.0,177.3 236.6,181.4 237.2,183.5 237.9,188.3 238.5,193.5 239.4,196.9 240.2,199.6 241.1,203.3 242.0,206.3 243.0,208.2 244.0,212.0 245.0,217.4 246.0,219.4 246.9,223.7 247.8,227.4 248.8,230.6 249.7,234.0 250.6,238.9 251.5,243.7 252.3,247.8 253.1,249.7 253.9,253.6 254.7,258.0 255.5,262.8 255.8,266.9 256.2,271.0 256.5,275.2 256.8,278.9 257.2,280.8 257.5,284.3 257.8,287.1 258.2,288.3 258.5,291.3 259.0,298.5 259.5,300.6 260.1,302.0 260.6,306.0 261.1,312.2 262.3,315.1 263.4,318.7 264.6,321.3 265.7,324.3 266.9,328.9 268.0,331.5 269.2,333.0 270.3,336.0 271.5,338.8 272.6,340.0 273.8,342.2 274.9,344.4 276.1,345.7 277.2,349.3 278.4,351.0 279.7,352.7 280.9,353.6 282.2,355.6 283.5,360.9 284.7,362.2 286.0,365.7 287.4,367.1 288.8,369.5 290.2,371.7 291.5,372.1 292.9,373.6 294.3,375.6 295.7,377.4 297.0,378.4 298.3,379.2 299.5,381.0 300.8,383.1 302.1,384.0 303.4,383.9 304.6,385.3 305.9,386.2 307.2,387.5 308.5,389.1 309.9,388.6 311.2,388.6 312.6,388.2 313.9,388.5 315.2,388.7 316.6,390.3 317.9,390.6 319.3,390.4 320.6,391.8 322.0,391.1 323.4,391.9 324.8,392.5 326.2,392.8 327.6,392.8 329.0,393.0 330.4,393.2 331.8,393.8 333.2,393.4 334.6,393.8 336.0,394.4 337.4,394.6 338.7,394.5 340.1,395.0 341.5,395.2 342.8,396.0 344.2,396.8 345.6,396.9 346.9,396.5 348.3,396.9 349.7,397.0 351.1,397.7 352.4,398.5 353.8,398.7 355.2,399.5 356.5,399.9 357.9,400.0 359.3,399.7 360.6,399.9 362.0,399.7 363.4,400.3 364.8,400.5 366.2,401.0 367.6,401.1 369.0,400.4 370.4,400.9 371.8,401.4 373.2,402.0 374.6,401.5 376.0,401.3 377.4,401.6 378.8,401.4 380.2,401.3 381.6,401.4 383.0,402.6 384.4,402.4 385.8,402.2 387.2,402.4 388.6,402.6 390.0,403.3 391.4,403.6 392.8,403.8 394.2,403.7 395.6,403.8 397.0,403.6 398.4,403.0 399.7,403.7 401.1,403.3 402.4,403.4 403.8,403.0 405.1,402.8 406.5,402.6 407.8,402.0 409.2,402.0 410.5,402.1 411.9,402.2 413.2,402.1 414.6,402.2 415.9,401.9 417.3,401.6 418.6,400.7 420.0,400.6 421.3,401.0 422.7,400.6 424.0,400.5 425.3,400.0 426.7,399.4 428.0,399.8 429.3,399.4 430.7,399.4 432.0,399.0 433.3,398.3 434.7,397.2 436.0,397.2 437.3,396.5 438.7,395.7 440.0,396.3 441.4,396.3 442.8,396.1 444.2,395.7 445.6,395.2 447.1,395.0 448.5,394.6 449.9,394.2 451.3,394.0 452.7,392.7 454.1,392.9 455.5,392.4 456.9,392.4 458.4,392.3 459.8,391.5 461.2,391.4 462.6,391.2 464.0,390.5 465.4,389.9 466.8,389.5 468.2,388.4 469.6,388.1 471.1,388.0 472.5,387.6 473.9,386.7 475.3,386.5 476.7,386.8 478.1,386.7 479.5,386.0 480.9,385.2 482.4,384.8 483.8,384.4 485.2,383.8 486.6,383.4 488.0,383.3 489.4,382.8 490.8,381.2 492.2,381.0 493.6,380.4 495.1,380.1 496.5,379.2 497.9,378.5 499.3,378.2 500.7,376.3 502.1,376.3 503.5,375.6 504.9,374.3 506.4,372.9 507.8,372.7 509.2,371.9 510.6,371.8 512.0,371.2 513.4,370.5 514.8,370.1 516.1,369.4 517.5,368.8 518.9,368.3 520.3,367.5 521.6,366.9 523.0,366.3 524.4,364.9 525.8,364.2 527.2,363.5 528.5,362.8 529.9,361.7 531.3,361.0 532.6,361.5 533.9,361.7 535.2,362.4 536.5,362.1 537.8,362.1 539.2,362.0 540.5,362.1 541.8,362.1 543.1,361.8 544.4,362.3 545.7,362.9 547.0,363.5 548.3,363.4 549.6,363.7 550.9,364.6 552.2,364.7 553.5,365.0 554.8,365.2 556.1,365.8 557.4,366.3 558.7,367.1 560.0,367.2 561.3,367.4 562.6,367.0 564.0,367.2 565.3,367.4 566.6,367.7 567.9,367.8 569.2,368.7 570.5,368.7 571.9,369.2 573.2,369.2 574.5,369.8 575.8,371.2 577.1,371.5 578.5,372.4 579.8,373.1 581.1,373.9 582.4,374.8 583.7,375.3 585.0,376.0 586.4,376.6 587.7,377.2 589.0,377.8 590.3,378.8 591.6,379.1 592.9,380.0 594.1,380.7 595.4,380.8 596.7,381.7 598.0,381.9" fill="none" stroke="#ff0000" stroke-width="3.0" stroke-linejoin="round" stroke-linecap="butt" />
</g>
<line x1="177.6" y1="51" x2="177.6" y2="437" stroke="#000" stroke-width="3" stroke-dasharray="21,7"/>
<line x1="248.5" y1="52.5" x2="248.5" y2="438" stroke="#dadada" stroke-width="2.6" stroke-dasharray="21,7"/>
<line x1="287.2" y1="54.3" x2="287.2" y2="439" stroke="#000" stroke-width="3" stroke-dasharray="19.5,8.5"/>
<text x="36" y="433.7" font-size="14.3">0</text>
<text x="610.5" y="433.7" font-size="14.3">0.0</text>
<text x="36" y="361.2" font-size="14.3">2e+4</text>
<text x="610.5" y="361.2" font-size="14.3">0.5</text>
<text x="36" y="288.6" font-size="14.3">4e+4</text>
<text x="610.5" y="288.6" font-size="14.3">1.0</text>
<text x="36" y="216.1" font-size="14.3">6e+4</text>
<text x="610.5" y="216.1" font-size="14.3">1.5</text>
<text x="36" y="143.5" font-size="14.3">8e+4</text>
<text x="610.5" y="143.5" font-size="14.3">2.0</text>
<text x="36" y="71.0" font-size="14.3">1e+5</text>
<text x="610.5" y="71.0" font-size="14.3">2.5</text>
<text x="80.4" y="453.6" font-size="14.3" text-anchor="middle">0</text>
<text x="122.8" y="453.6" font-size="14.3" text-anchor="middle">30</text>
<text x="165.2" y="453.6" font-size="14.3" text-anchor="middle">60</text>
<text x="207.6" y="453.6" font-size="14.3" text-anchor="middle">90</text>
<text x="250.0" y="453.6" font-size="14.3" text-anchor="middle">120</text>
<text x="292.4" y="453.6" font-size="14.3" text-anchor="middle">150</text>
<text x="334.8" y="453.6" font-size="14.3" text-anchor="middle">180</text>
<text x="377.2" y="453.6" font-size="14.3" text-anchor="middle">210</text>
<text x="419.6" y="453.6" font-size="14.3" text-anchor="middle">240</text>
<text x="462.0" y="453.6" font-size="14.3" text-anchor="middle">270</text>
<text x="504.4" y="453.6" font-size="14.3" text-anchor="middle">300</text>
<text x="546.8" y="453.6" font-size="14.3" text-anchor="middle">330</text>
<text x="589.2" y="453.6" font-size="14.3" text-anchor="middle">360</text>
<text x="339" y="484.6" font-size="17.2" text-anchor="middle">Days</text>
<text transform="translate(19.4,246.9) rotate(-90)" font-size="17.2" text-anchor="middle">Surface area where DC takes place (km<tspan dx="0.8" dy="-8.8" font-size="12">2</tspan><tspan dy="8.8">)</tspan></text>
<text transform="translate(645.6,244.5) rotate(90)" font-size="17.2" text-anchor="middle">Surface Chla in blooming area (mg/m<tspan dx="0.8" dy="-8.8" font-size="12">3</tspan><tspan dy="8.8">)</tspan></text>
<line x1="355" y1="82.6" x2="396" y2="82.6" stroke="#bbbbbb" stroke-width="3.4"/>
<text x="406" y="87.6" font-size="14.3">DCZ area hindcast</text>
<line x1="355" y1="100.4" x2="396" y2="100.4" stroke="#222" stroke-width="1.4"/>
<text x="406" y="105.4" font-size="14.3">DCZ area mpi45</text>
<line x1="355" y1="118.2" x2="396" y2="118.2" stroke="#222" stroke-width="1.4"/>
<text x="406" y="123.2" font-size="14.3">DCZ area mpi85</text>
<line x1="355" y1="136.0" x2="392" y2="136.0" stroke="#222" stroke-width="1.4" stroke-dasharray="10,3.5"/>
<text x="406" y="141.0" font-size="14.3">DCZ area ec45</text>
<line x1="355" y1="153.8" x2="392" y2="153.8" stroke="#222" stroke-width="1.4" stroke-dasharray="10,3.5"/>
<text x="406" y="158.8" font-size="14.3">DCZ area ec85</text>
<line x1="355" y1="171.6" x2="396" y2="171.6" stroke="#000" stroke-width="3.4"/>
<text x="406" y="176.6" font-size="14.3">DCZ area ENSEMBLE</text>
<line x1="352" y1="198.8" x2="430" y2="198.8" stroke="#ffb6ba" stroke-width="3.4"/>
<text x="449.5" y="203.8" font-size="14.3">Chla hindcast</text>
<line x1="352" y1="216.7" x2="430" y2="216.7" stroke="#ff1a1a" stroke-width="1.5"/>
<text x="449.5" y="221.7" font-size="14.3">Chla MPI45</text>
<line x1="352" y1="234.5" x2="430" y2="234.5" stroke="#ff1a1a" stroke-width="1.5"/>
<text x="449.5" y="239.5" font-size="14.3">Chla MPI85</text>
<line x1="352" y1="252.4" x2="423.2" y2="252.4" stroke="#ff1a1a" stroke-width="1.5" stroke-dasharray="19.5,6.3"/>
<text x="449.5" y="257.4" font-size="14.3">Chla EC45</text>
<line x1="352" y1="270.2" x2="423.2" y2="270.2" stroke="#ff1a1a" stroke-width="1.5" stroke-dasharray="19.5,6.3"/>
<text x="449.5" y="275.2" font-size="14.3">Chla EC45</text>
<line x1="352" y1="288.1" x2="430" y2="288.1" stroke="#ff0000" stroke-width="3.4"/>
<text x="449.5" y="293.1" font-size="14.3">Chla ENSEMBLE</text>
<text x="8.2" y="488.8" font-size="21.5" font-weight="bold">b<tspan dx="1.3">)</tspan></text>
<path d="M74.5,511.2H598V874H80.4V511.2" stroke="#333" stroke-width="1.4" fill="none"/>
<path d="M74.5,874.0H80.4 M74.5,801.4H80.4 M74.5,728.9H80.4 M74.5,656.3H80.4 M74.5,583.8H80.4 M74.5,511.2H80.4 M80.4,874V879 M166.7,874V879 M252.9,874V879 M339.2,874V879 M425.5,874V879 M511.8,874V879 M598.0,874V879" stroke="#333" stroke-width="1.4" fill="none"/>
<text x="67.5" y="879.0" font-size="14.3" text-anchor="end">2.0</text>
<text x="67.5" y="806.4" font-size="14.3" text-anchor="end">2.5</text>
<text x="67.5" y="733.9" font-size="14.3" text-anchor="end">3.0</text>
<text x="67.5" y="661.3" font-size="14.3" text-anchor="end">3.5</text>
<text x="67.5" y="588.8" font-size="14.3" text-anchor="end">4.0</text>
<text x="67.5" y="516.2" font-size="14.3" text-anchor="end">4.5</text>
<text x="80.4" y="899" font-size="14.3" text-anchor="middle">0.0</text>
<text x="166.7" y="899" font-size="14.3" text-anchor="middle">2.0e+6</text>
<text x="252.9" y="899" font-size="14.3" text-anchor="middle">4.0e+6</text>
<text x="339.2" y="899" font-size="14.3" text-anchor="middle">6.0e+6</text>
<text x="425.5" y="899" font-size="14.3" text-anchor="middle">8.0e+6</text>
<text x="511.8" y="899" font-size="14.3" text-anchor="middle">1.0e+7</text>
<text x="598.0" y="899" font-size="14.3" text-anchor="middle">1.2e+7</text>
<text x="338.5" y="932.6" font-size="17.2" text-anchor="middle">Annual accumulated extension of DCZ (km<tspan dx="0.8" dy="-8.8" font-size="12">2</tspan><tspan dy="8.8">)</tspan></text>
<text transform="translate(31.4,692.1) rotate(-90)" font-size="17.2" text-anchor="middle">Maximum intensity of the chla bloom (mg/m<tspan dx="0.8" dy="-8.8" font-size="12">3</tspan><tspan dy="8.8">)</tspan></text>
<rect x="491.8" y="517.5" width="101.6" height="89.6" fill="#fff" stroke="#333" stroke-width="1.4"/>
<path d="M513.8,531.6L521.6,539.4M513.8,539.4L521.6,531.6" stroke="#ff0000" stroke-width="2.7" stroke-linecap="round"/>
<path d="M513.8,549.6L521.6,557.4M513.8,557.4L521.6,549.6" stroke="#8b0000" stroke-width="2.7" stroke-linecap="round"/>
<circle cx="517.7" cy="571.0" r="5.0" fill="#ff0000"/>
<circle cx="517.7" cy="589.0" r="5.0" fill="#8b0000"/>
<text x="542.5" y="540.5" font-size="14.3">MPI45</text>
<text x="542.5" y="558.5" font-size="14.3">MPI45</text>
<text x="542.5" y="576.0" font-size="14.3">EC45</text>
<text x="542.5" y="594.0" font-size="14.3">EC85</text>
<path d="M316.1,549.1L323.9,556.9M316.1,556.9L323.9,549.1" stroke="#ff0000" stroke-width="2.7" stroke-linecap="round"/>
<path d="M136.6,652.0L144.4,659.8M136.6,659.8L144.4,652.0" stroke="#ff0000" stroke-width="2.7" stroke-linecap="round"/>
<path d="M182.8,765.3L190.6,773.1M182.8,773.1L190.6,765.3" stroke="#ff0000" stroke-width="2.7" stroke-linecap="round"/>
<path d="M287.9,761.2L295.7,769.0M287.9,769.0L295.7,761.2" stroke="#ff0000" stroke-width="2.7" stroke-linecap="round"/>
<path d="M454.8,729.4L462.6,737.2M454.8,737.2L462.6,729.4" stroke="#ff0000" stroke-width="2.7" stroke-linecap="round"/>
<path d="M520.8,755.4L528.6,763.2M520.8,763.2L528.6,755.4" stroke="#ff0000" stroke-width="2.7" stroke-linecap="round"/>
<path d="M314.7,632.1L322.5,639.9M314.7,639.9L322.5,632.1" stroke="#8b0000" stroke-width="2.7" stroke-linecap="round"/>
<path d="M375.2,701.6L383.0,709.4M375.2,709.4L383.0,701.6" stroke="#8b0000" stroke-width="2.7" stroke-linecap="round"/>
<path d="M158.1,749.5L165.9,757.3M158.1,757.3L165.9,749.5" stroke="#8b0000" stroke-width="2.7" stroke-linecap="round"/>
<path d="M208.2,759.9L216.0,767.7M208.2,767.7L216.0,759.9" stroke="#8b0000" stroke-width="2.7" stroke-linecap="round"/>
<path d="M229.8,763.5L237.6,771.3M229.8,771.3L237.6,763.5" stroke="#8b0000" stroke-width="2.7" stroke-linecap="round"/>
<path d="M232.4,768.0L240.2,775.8M232.4,775.8L240.2,768.0" stroke="#8b0000" stroke-width="2.7" stroke-linecap="round"/>
<circle cx="269.7" cy="703.5" r="5.0" fill="#ff0000"/>
<circle cx="463.1" cy="638.9" r="5.0" fill="#ff0000"/>
<circle cx="522.2" cy="619.8" r="5.0" fill="#ff0000"/>
<circle cx="365.4" cy="753.2" r="5.0" fill="#ff0000"/>
<circle cx="210.7" cy="770.7" r="5.0" fill="#ff0000"/>
<circle cx="244.9" cy="762.4" r="5.0" fill="#ff0000"/>
<circle cx="371.6" cy="615.8" r="5.0" fill="#8b0000"/>
<circle cx="476.0" cy="687.9" r="5.0" fill="#8b0000"/>
<circle cx="527.9" cy="723.2" r="5.0" fill="#8b0000"/>
<circle cx="246.1" cy="820.7" r="5.0" fill="#8b0000"/>
<circle cx="147.6" cy="774.3" r="5.0" fill="#8b0000"/>
<circle cx="201.0" cy="744.9" r="5.0" fill="#8b0000"/>
</svg>
</body></html>
